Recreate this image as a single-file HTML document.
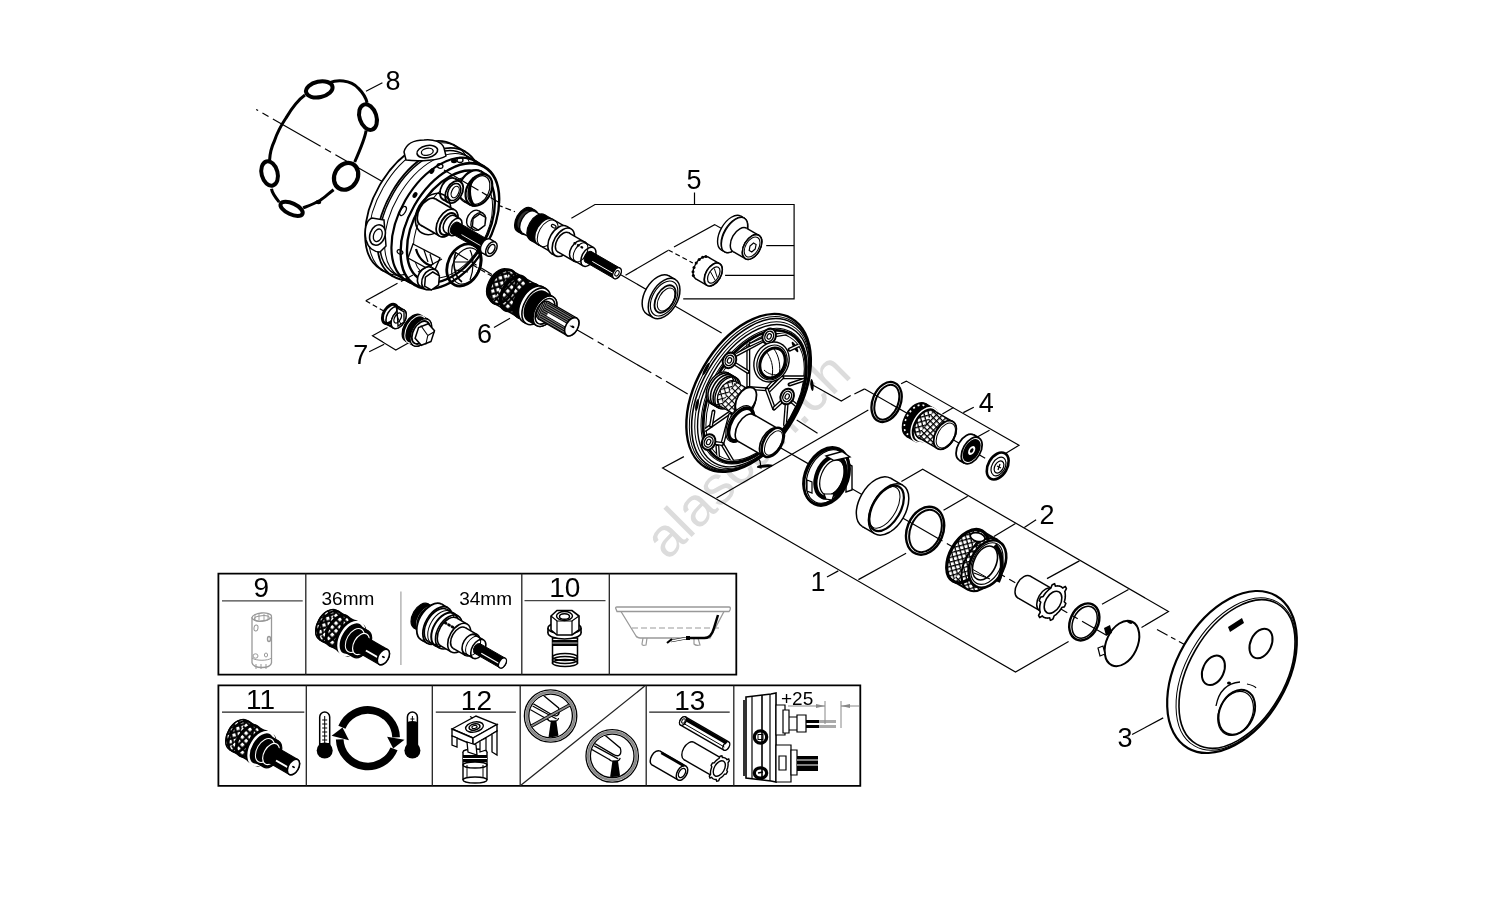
<!DOCTYPE html>
<html><head><meta charset="utf-8"><style>
html,body{margin:0;padding:0;background:#fff;width:1500px;height:916px;overflow:hidden}
svg{display:block;font-family:"Liberation Sans",sans-serif;will-change:transform}
</style></head><body>
<svg width="1500" height="916" viewBox="0 0 1500 916">
<defs>
<pattern id="knA" width="4.6" height="4.6" patternUnits="userSpaceOnUse" patternTransform="rotate(45)"><rect width="4.6" height="4.6" fill="#000"/><rect x="1.1" y="1.1" width="3.5" height="3.5" fill="#fff"/></pattern>
<pattern id="knB" width="5.4" height="5.4" patternUnits="userSpaceOnUse" patternTransform="rotate(45)"><rect width="5.4" height="5.4" fill="#000"/><rect x="1.7" y="1.7" width="3.2" height="3.2" fill="#fff"/></pattern>
<pattern id="knC" width="4.4" height="4.4" patternUnits="userSpaceOnUse" patternTransform="rotate(45)"><rect width="4.4" height="4.4" fill="#000"/><rect x="1.3" y="1.3" width="3.1" height="3.1" fill="#fff"/></pattern>
<pattern id="spl" width="2" height="2" patternUnits="userSpaceOnUse" patternTransform="rotate(30)"><rect width="2" height="2" fill="#fff"/><rect width="2" height="1.5" fill="#000"/></pattern>
<clipPath id="rclip"><ellipse cx="754.6" cy="396.4" rx="41" ry="70" transform="rotate(30 754.6 396.4)"/></clipPath></defs><g id="t1">
<polygon points="218.4,573.6 736.3,573.6 736.3,674.7 218.4,674.7" stroke="#000" stroke-width="1.8" fill="none" stroke-linejoin="miter"/>
<line x1="305.8" y1="573.6" x2="305.8" y2="674.7" stroke="#222" stroke-width="1.3" stroke-linecap="butt"/>
<line x1="521.8" y1="573.6" x2="521.8" y2="674.7" stroke="#222" stroke-width="1.3" stroke-linecap="butt"/>
<line x1="609.3" y1="573.6" x2="609.3" y2="674.7" stroke="#222" stroke-width="1.3" stroke-linecap="butt"/>
<line x1="222" y1="600.9" x2="302.7" y2="600.9" stroke="#444" stroke-width="1.3" stroke-linecap="butt"/>
<line x1="524.5" y1="600.7" x2="605.5" y2="600.7" stroke="#444" stroke-width="1.3" stroke-linecap="butt"/>
<line x1="400.9" y1="591.5" x2="400.9" y2="665" stroke="#aaa" stroke-width="1.3" stroke-linecap="butt"/>
<text x="261.3" y="596.6" font-size="28" text-anchor="middle" fill="#000">9</text>
<text x="564.8" y="597.3" font-size="28" text-anchor="middle" fill="#000">10</text>
<text x="321.5" y="604.5" font-size="19" text-anchor="start" fill="#000">36mm</text>
<text x="512" y="604.5" font-size="19" text-anchor="end" fill="#000">34mm</text>
</g>
<g id="t2">
<polygon points="218.4,685.4 860.3,685.4 860.3,785.8 218.4,785.8" stroke="#000" stroke-width="1.8" fill="none" stroke-linejoin="miter"/>
<line x1="306.3" y1="685.4" x2="306.3" y2="785.8" stroke="#222" stroke-width="1.3" stroke-linecap="butt"/>
<line x1="432.3" y1="685.4" x2="432.3" y2="785.8" stroke="#222" stroke-width="1.3" stroke-linecap="butt"/>
<line x1="520.2" y1="685.4" x2="520.2" y2="785.8" stroke="#222" stroke-width="1.3" stroke-linecap="butt"/>
<line x1="646.2" y1="685.4" x2="646.2" y2="785.8" stroke="#222" stroke-width="1.3" stroke-linecap="butt"/>
<line x1="733.8" y1="685.4" x2="733.8" y2="785.8" stroke="#222" stroke-width="1.3" stroke-linecap="butt"/>
<line x1="222" y1="712.2" x2="304.3" y2="712.2" stroke="#222" stroke-width="1.3" stroke-linecap="butt"/>
<line x1="435.8" y1="712.2" x2="515.9" y2="712.2" stroke="#222" stroke-width="1.3" stroke-linecap="butt"/>
<line x1="649.2" y1="712.2" x2="729.7" y2="712.2" stroke="#222" stroke-width="1.3" stroke-linecap="butt"/>
<line x1="520.2" y1="785.8" x2="644.7" y2="686.1" stroke="#222" stroke-width="1.3" stroke-linecap="butt"/>
<text x="260.6" y="709.1" font-size="28" text-anchor="middle" fill="#000">11</text>
<text x="476.4" y="710" font-size="28" text-anchor="middle" fill="#000">12</text>
<text x="689.8" y="710" font-size="28" text-anchor="middle" fill="#000">13</text>
<text x="781" y="704.5" font-size="19" text-anchor="start" fill="#000">+25</text>
</g>
<text x="0" y="0" transform="translate(667.4,561.2) rotate(-45)" font-size="55" fill="#dcdcdc">alascan.ch</text>
<g id="lines">
<text x="392.9" y="90.2" font-size="27" text-anchor="middle" fill="#000">8</text>
<line x1="366" y1="91.3" x2="382.4" y2="82.7" stroke="#000" stroke-width="1.2" stroke-linecap="butt"/>
<text x="694" y="188.6" font-size="27" text-anchor="middle" fill="#000">5</text>
<line x1="694.5" y1="192.5" x2="694.5" y2="204.5" stroke="#000" stroke-width="1.2" stroke-linecap="butt"/>
<polyline points="571.4,218.2 595,204.5 794.1,204.5 794.1,298.9 683.2,298.9" stroke="#000" stroke-width="1.2" fill="none" stroke-linejoin="miter"/>
<line x1="766.2" y1="245.6" x2="794.1" y2="245.6" stroke="#000" stroke-width="1.2" stroke-linecap="butt"/>
<line x1="725.1" y1="275.3" x2="794.1" y2="275.3" stroke="#000" stroke-width="1.2" stroke-linecap="butt"/>
<polyline points="625.5,275.3 668,250.5" stroke="#000" stroke-width="1.2" fill="none" stroke-linejoin="miter"/>
<polyline points="674,247 714.6,224.6 722.5,229" stroke="#000" stroke-width="1.2" fill="none" stroke-linejoin="miter"/>
<line x1="668.3" y1="250" x2="692.8" y2="263" stroke="#000" stroke-width="1.2" stroke-dasharray="5 3" stroke-linecap="butt"/>
<line x1="620.3" y1="274.4" x2="723" y2="333.7" stroke="#000" stroke-width="1.2" stroke-dasharray="55 5 7 5" stroke-dashoffset="10" stroke-linecap="butt"/>
<text x="360.7" y="364" font-size="27" text-anchor="middle" fill="#000">7</text>
<line x1="369.2" y1="351.7" x2="384.2" y2="344.2" stroke="#000" stroke-width="1.2" stroke-linecap="butt"/>
<polyline points="387.5,327.5 372.5,335.8 395.8,350 409.2,342.5" stroke="#000" stroke-width="1.2" fill="none" stroke-linejoin="miter"/>
<line x1="365.8" y1="300.8" x2="397.5" y2="283.3" stroke="#000" stroke-width="1.2" stroke-linecap="butt"/>
<line x1="365.8" y1="300.8" x2="383.3" y2="310.8" stroke="#000" stroke-width="1.2" stroke-dasharray="5 3" stroke-linecap="butt"/>
<text x="484.5" y="343" font-size="27" text-anchor="middle" fill="#000">6</text>
<line x1="494" y1="327.5" x2="510" y2="318.3" stroke="#000" stroke-width="1.2" stroke-linecap="butt"/>
<line x1="571.7" y1="326.7" x2="687.7" y2="393.9" stroke="#000" stroke-width="1.2" stroke-dasharray="50 5 7 5" stroke-dashoffset="25" stroke-linecap="butt"/>
<line x1="464.5" y1="260" x2="492.4" y2="276.6" stroke="#000" stroke-width="1.2" stroke-dasharray="6 3" stroke-linecap="butt"/>
<line x1="488.6" y1="201.5" x2="515" y2="211.7" stroke="#000" stroke-width="1.2" stroke-dasharray="6 3" stroke-linecap="butt"/>
<line x1="256.2" y1="109.5" x2="383.3" y2="182.1" stroke="#000" stroke-width="1.2" stroke-dasharray="55 5 7 5" stroke-dashoffset="52.8" stroke-linecap="butt"/>
<text x="986.2" y="411.9" font-size="27" text-anchor="middle" fill="#000">4</text>
<line x1="963.3" y1="412.6" x2="973.8" y2="407.3" stroke="#000" stroke-width="1.2" stroke-linecap="butt"/>
<polyline points="901.1,383.8 906.3,381.1 1019,445.3 1005.9,453.2" stroke="#000" stroke-width="1.2" fill="none" stroke-linejoin="miter"/>
<line x1="942.4" y1="413.9" x2="953.5" y2="407.6" stroke="#000" stroke-width="1.2" stroke-linecap="butt"/>
<line x1="977.7" y1="436.8" x2="989.5" y2="430.3" stroke="#000" stroke-width="1.2" stroke-linecap="butt"/>
<polyline points="810.5,383.8 841.3,401.1 850.7,395.5" stroke="#000" stroke-width="1.2" fill="none" stroke-linejoin="miter"/>
<line x1="854.4" y1="394" x2="864.7" y2="388.9" stroke="#000" stroke-width="1.2" stroke-linecap="butt"/>
<line x1="864.7" y1="388.9" x2="998" y2="465.6" stroke="#000" stroke-width="1.2" stroke-dasharray="55 5 7 5" stroke-dashoffset="0" stroke-linecap="butt"/>
<line x1="716.5" y1="498" x2="868.3" y2="410" stroke="#000" stroke-width="1.2" stroke-linecap="butt"/>
<line x1="796.7" y1="420" x2="817.5" y2="433.3" stroke="#000" stroke-width="1.2" stroke-linecap="butt"/>
<line x1="770" y1="441.7" x2="1106" y2="635" stroke="#000" stroke-width="1.2" stroke-dasharray="55 5 7 5" stroke-dashoffset="0" stroke-linecap="butt"/>
<line x1="1157" y1="629.5" x2="1184.5" y2="644.5" stroke="#000" stroke-width="1.2" stroke-dasharray="12 4 5 4" stroke-dashoffset="0" stroke-linecap="butt"/>
<polyline points="683.9,456.6 662.6,467.9 1015.5,672 1068.6,641.5" stroke="#000" stroke-width="1.2" fill="none" stroke-linejoin="miter"/>
<text x="818" y="591" font-size="27" text-anchor="middle" fill="#000">1</text>
<line x1="827" y1="577" x2="838.3" y2="570.9" stroke="#000" stroke-width="1.2" stroke-linecap="butt"/>
<line x1="858.4" y1="579.6" x2="906.1" y2="553.3" stroke="#000" stroke-width="1.2" stroke-linecap="butt"/>
<polyline points="901.4,481.6 922.7,469.3 1168.5,611.5 1141.5,627.5" stroke="#000" stroke-width="1.2" fill="none" stroke-linejoin="miter"/>
<text x="1046.9" y="523.6" font-size="27" text-anchor="middle" fill="#000">2</text>
<line x1="943.5" y1="510.3" x2="967.7" y2="496.3" stroke="#000" stroke-width="1.2" stroke-linecap="butt"/>
<line x1="993.9" y1="536.4" x2="1015.5" y2="523.6" stroke="#000" stroke-width="1.2" stroke-linecap="butt"/>
<line x1="1024.3" y1="527.5" x2="1036.1" y2="519.7" stroke="#000" stroke-width="1.2" stroke-linecap="butt"/>
<line x1="1047" y1="578.6" x2="1079.4" y2="560.9" stroke="#000" stroke-width="1.2" stroke-linecap="butt"/>
<line x1="1102" y1="604.2" x2="1128.5" y2="589.4" stroke="#000" stroke-width="1.2" stroke-linecap="butt"/>
<text x="1124.9" y="746.6" font-size="27" text-anchor="middle" fill="#000">3</text>
<line x1="1132.1" y1="734.5" x2="1163.2" y2="717.9" stroke="#000" stroke-width="1.2" stroke-linecap="butt"/>
</g>
<g id="body">
<ellipse cx="417" cy="207" rx="43.2" ry="72" transform="rotate(30 417 207)" stroke="#000" stroke-width="1.8" fill="#fff"/>
<polygon points="381,269.4 393.1,276.4 465.1,151.6 453,144.6" stroke="none" stroke-width="0" fill="#fff" stroke-linejoin="miter"/>
<line x1="381" y1="269.4" x2="393.1" y2="276.4" stroke="#000" stroke-width="1.8" stroke-linecap="butt"/>
<line x1="453" y1="144.6" x2="465.1" y2="151.6" stroke="#000" stroke-width="1.8" stroke-linecap="butt"/>
<ellipse cx="429.1" cy="214" rx="43.2" ry="72" transform="rotate(30 429.1 214)" stroke="#000" stroke-width="1.8" fill="#fff"/>
<ellipse cx="429.1" cy="214" rx="41.4" ry="69" transform="rotate(30 429.1 214)" stroke="#000" stroke-width="1.5" fill="#fff"/>
<polygon points="394.6,273.8 415.4,285.8 484.4,166.2 463.6,154.2" stroke="none" stroke-width="0" fill="#fff" stroke-linejoin="miter"/>
<line x1="394.6" y1="273.8" x2="415.4" y2="285.8" stroke="#000" stroke-width="1.5" stroke-linecap="butt"/>
<line x1="463.6" y1="154.2" x2="484.4" y2="166.2" stroke="#000" stroke-width="1.5" stroke-linecap="butt"/>
<ellipse cx="449.9" cy="226" rx="41.4" ry="69" transform="rotate(30 449.9 226)" stroke="#000" stroke-width="1.5" fill="#fff"/>
<ellipse cx="420.5" cy="209" rx="43" ry="72" transform="rotate(30 420.5 209)" stroke="#000" stroke-width="1.0" fill="none"/>
<ellipse cx="434.3" cy="217" rx="41.4" ry="69" transform="rotate(30 434.3 217)" stroke="#000" stroke-width="1.0" fill="none"/>
<ellipse cx="441.2" cy="221" rx="41.4" ry="69" transform="rotate(30 441.2 221)" stroke="#000" stroke-width="2.2" fill="none"/>
<path d="M404,152 C406,144 414,140 424,140 C434,139 442,142 444,148 L446,156 C440,160 420,162 406,160 Z" stroke="#000" stroke-width="1.5" fill="#fff"/>
<ellipse cx="427.3" cy="151.6" rx="10.5" ry="6" transform="rotate(-12 427.3 151.6)" stroke="#000" stroke-width="1.6" fill="#fff"/>
<ellipse cx="427.3" cy="151.8" rx="6" ry="3.4" transform="rotate(-12 427.3 151.8)" stroke="#000" stroke-width="1.3" fill="none"/>
<path d="M372,218 C366,220 364,230 366,240 C368,248 374,252 380,252 L386,246 L384,220 Z" stroke="#000" stroke-width="1.5" fill="#fff"/>
<ellipse cx="377.5" cy="235" rx="7.5" ry="10.5" transform="rotate(20 377.5 235)" stroke="#000" stroke-width="1.6" fill="#fff"/>
<ellipse cx="377.8" cy="235.3" rx="4.2" ry="6.5" transform="rotate(20 377.8 235.3)" stroke="#000" stroke-width="1.3" fill="none"/>
<ellipse cx="413" cy="261" rx="4" ry="6.5" transform="rotate(30 413 261)" stroke="#000" stroke-width="1.4" fill="#fff"/>
<ellipse cx="449.9" cy="226" rx="40.8" ry="68" transform="rotate(30 449.9 226)" stroke="#000" stroke-width="1.8" fill="#fff"/>
<ellipse cx="450.9" cy="226.5" rx="36.5" ry="61" transform="rotate(30 450.9 226.5)" stroke="#000" stroke-width="2.4" fill="#fff"/>
<ellipse cx="452.9" cy="227.5" rx="33" ry="55" transform="rotate(30 452.9 227.5)" stroke="#000" stroke-width="1.0" fill="none"/>
<ellipse cx="432" cy="171" rx="2.2" ry="3.2" transform="rotate(30 432 171)" fill="#000"/>
<ellipse cx="440" cy="166" rx="3" ry="2.2" transform="rotate(20 440 166)" stroke="#000" stroke-width="1.3" fill="none"/>
<ellipse cx="415" cy="195" rx="2.2" ry="3.2" transform="rotate(30 415 195)" fill="#000"/>
<ellipse cx="403" cy="211" rx="2.5" ry="5" transform="rotate(30 403 211)" stroke="#000" stroke-width="1.3" fill="none"/>
<ellipse cx="400" cy="252" rx="3" ry="2" transform="rotate(30 400 252)" stroke="#000" stroke-width="1.3" fill="none"/>
<ellipse cx="472" cy="186" rx="11.9" ry="17" transform="rotate(30 472 186)" stroke="#000" stroke-width="2.2" fill="#fff"/>
<polygon points="463.5,200.7 470.4,204.7 487.4,175.3 480.5,171.3" stroke="none" stroke-width="0" fill="#fff" stroke-linejoin="miter"/>
<line x1="463.5" y1="200.7" x2="470.4" y2="204.7" stroke="#000" stroke-width="2.2" stroke-linecap="butt"/>
<line x1="480.5" y1="171.3" x2="487.4" y2="175.3" stroke="#000" stroke-width="2.2" stroke-linecap="butt"/>
<ellipse cx="478.9" cy="190" rx="11.9" ry="17" transform="rotate(30 478.9 190)" stroke="#000" stroke-width="2.2" fill="#fff"/>
<ellipse cx="478.9" cy="190" rx="10" ry="15" transform="rotate(25 478.9 190)" stroke="#000" stroke-width="1.2" fill="none"/>
<path d="M474,178 C468,184 468,198 474,206" stroke="#000" stroke-width="3.0" fill="none"/>
<ellipse cx="454" cy="161" rx="3" ry="2.2" fill="#000"/>
<ellipse cx="460" cy="160" rx="3" ry="2.5" stroke="#000" stroke-width="1.3" fill="none"/>
<ellipse cx="449" cy="189" rx="7.8" ry="12" transform="rotate(30 449 189)" stroke="#000" stroke-width="1.8" fill="#fff"/>
<polygon points="443,199.4 448.2,202.4 460.2,181.6 455,178.6" stroke="none" stroke-width="0" fill="#fff" stroke-linejoin="miter"/>
<line x1="443" y1="199.4" x2="448.2" y2="202.4" stroke="#000" stroke-width="1.8" stroke-linecap="butt"/>
<line x1="455" y1="178.6" x2="460.2" y2="181.6" stroke="#000" stroke-width="1.8" stroke-linecap="butt"/>
<ellipse cx="454.2" cy="192" rx="7.8" ry="12" transform="rotate(30 454.2 192)" stroke="#000" stroke-width="1.8" fill="#fff"/>
<ellipse cx="454.2" cy="192" rx="6" ry="9" transform="rotate(25 454.2 192)" stroke="#000" stroke-width="1.6" fill="none"/>
<ellipse cx="455.2" cy="192" rx="3.5" ry="6" transform="rotate(25 455.2 192)" stroke="#000" stroke-width="1.2" fill="none"/>
<ellipse cx="474" cy="219" rx="6.6" ry="9.5" transform="rotate(30 474 219)" stroke="#000" stroke-width="1.4" fill="#fff"/>
<polygon points="469.2,227.2 473.6,229.7 483.1,213.3 478.8,210.8" stroke="none" stroke-width="0" fill="#fff" stroke-linejoin="miter"/>
<line x1="469.2" y1="227.2" x2="473.6" y2="229.7" stroke="#000" stroke-width="1.4" stroke-linecap="butt"/>
<line x1="478.8" y1="210.8" x2="483.1" y2="213.3" stroke="#000" stroke-width="1.4" stroke-linecap="butt"/>
<ellipse cx="478.3" cy="221.5" rx="6.6" ry="9.5" transform="rotate(30 478.3 221.5)" stroke="#000" stroke-width="1.4" fill="#fff"/>
<polygon points="484.9,225.4 478.3,230.1 472.4,226.7 473.1,218.6 479.7,213.9 485.6,217.3" stroke="#000" stroke-width="1.4" fill="#fff" stroke-linejoin="miter"/>
<ellipse cx="464" cy="265" rx="16" ry="22" transform="rotate(25 464 265)" stroke="#000" stroke-width="2.8" fill="none"/>
<ellipse cx="466" cy="266" rx="13" ry="19" transform="rotate(25 466 266)" stroke="#000" stroke-width="1.2" fill="none"/>
<path d="M456,252 C452,262 454,276 462,282" stroke="#000" stroke-width="1.6" fill="none"/>
<path d="M470,250 C474,258 474,270 470,280" stroke="#000" stroke-width="1.2" fill="none"/>
<line x1="455" y1="262" x2="470" y2="262" stroke="#000" stroke-width="1.0" stroke-linecap="butt"/>
<line x1="455" y1="270" x2="468" y2="272" stroke="#000" stroke-width="1.0" stroke-linecap="butt"/>
<polygon points="413,244 440,258 434,272 408,258" stroke="#000" stroke-width="1.4" fill="#fff" stroke-linejoin="miter"/>
<path d="M416,249 C418,257 424,264 432,266" stroke="#000" stroke-width="2.2" fill="none"/>
<line x1="424" y1="250" x2="428" y2="262" stroke="#000" stroke-width="1.2" stroke-linecap="butt"/>
<line x1="430" y1="254" x2="433" y2="265" stroke="#000" stroke-width="1.2" stroke-linecap="butt"/>
<ellipse cx="426" cy="277" rx="7.7" ry="11" transform="rotate(30 426 277)" stroke="#000" stroke-width="1.6" fill="#fff"/>
<polygon points="420.5,286.5 424.8,289 435.8,270 431.5,267.5" stroke="none" stroke-width="0" fill="#fff" stroke-linejoin="miter"/>
<line x1="420.5" y1="286.5" x2="424.8" y2="289" stroke="#000" stroke-width="1.6" stroke-linecap="butt"/>
<line x1="431.5" y1="267.5" x2="435.8" y2="270" stroke="#000" stroke-width="1.6" stroke-linecap="butt"/>
<ellipse cx="430.3" cy="279.5" rx="7.7" ry="11" transform="rotate(30 430.3 279.5)" stroke="#000" stroke-width="1.6" fill="#fff"/>
<polygon points="438.6,284.8 431.2,290 424.6,286.2 425.4,277.2 432.8,272 439.4,275.8" stroke="#000" stroke-width="1.5" fill="#fff" stroke-linejoin="miter"/>
<ellipse cx="433" cy="214" rx="16" ry="22" transform="rotate(30 433 214)" stroke="#000" stroke-width="1.6" fill="none"/>
<ellipse cx="428" cy="212" rx="9" ry="15" transform="rotate(30 428 212)" stroke="#000" stroke-width="1.8" fill="#fff"/>
<polygon points="420.5,225 439.6,236 454.6,210 435.5,199" stroke="none" stroke-width="0" fill="#fff" stroke-linejoin="miter"/>
<line x1="420.5" y1="225" x2="439.6" y2="236" stroke="#000" stroke-width="1.8" stroke-linecap="butt"/>
<line x1="435.5" y1="199" x2="454.6" y2="210" stroke="#000" stroke-width="1.8" stroke-linecap="butt"/>
<ellipse cx="447.1" cy="223" rx="9" ry="15" transform="rotate(30 447.1 223)" stroke="#000" stroke-width="1.8" fill="#fff"/>
<ellipse cx="447.1" cy="223" rx="9" ry="15" transform="rotate(30 447.1 223)" stroke="#000" stroke-width="1.4" fill="#fff"/>
<ellipse cx="448.1" cy="224" rx="7" ry="12" transform="rotate(30 448.1 224)" stroke="#000" stroke-width="2.0" fill="#fff"/>
<ellipse cx="450" cy="224" rx="5.7" ry="9.5" transform="rotate(30 450 224)" stroke="#000" stroke-width="1.6" fill="#fff"/>
<polygon points="445.2,232.2 450.4,235.2 459.9,218.8 454.8,215.8" stroke="none" stroke-width="0" fill="#fff" stroke-linejoin="miter"/>
<line x1="445.2" y1="232.2" x2="450.4" y2="235.2" stroke="#000" stroke-width="1.6" stroke-linecap="butt"/>
<line x1="454.8" y1="215.8" x2="459.9" y2="218.8" stroke="#000" stroke-width="1.6" stroke-linecap="butt"/>
<ellipse cx="455.2" cy="227" rx="5.7" ry="9.5" transform="rotate(30 455.2 227)" stroke="#000" stroke-width="1.6" fill="#fff"/>
<ellipse cx="455" cy="228" rx="3.9" ry="6.5" transform="rotate(30 455 228)" stroke="#000" stroke-width="1.0" fill="#000"/>
<polygon points="451.8,233.6 486.4,253.6 492.9,242.4 458.2,222.4" stroke="none" stroke-width="0" fill="#000" stroke-linejoin="miter"/>
<line x1="451.8" y1="233.6" x2="486.4" y2="253.6" stroke="#000" stroke-width="1.0" stroke-linecap="butt"/>
<line x1="458.2" y1="222.4" x2="492.9" y2="242.4" stroke="#000" stroke-width="1.0" stroke-linecap="butt"/>
<ellipse cx="489.6" cy="248" rx="3.9" ry="6.5" transform="rotate(30 489.6 248)" stroke="#000" stroke-width="1.0" fill="#fff"/>
<line x1="461.5" y1="234.6" x2="489.2" y2="250.6" stroke="#fff" stroke-width="0.9" stroke-linecap="butt"/>
<ellipse cx="486.2" cy="246" rx="4.8" ry="8" transform="rotate(30 486.2 246)" stroke="#000" stroke-width="1.5" fill="#fff"/>
<polygon points="482.2,252.9 487.4,255.9 495.4,242.1 490.2,239.1" stroke="none" stroke-width="0" fill="#fff" stroke-linejoin="miter"/>
<line x1="482.2" y1="252.9" x2="487.4" y2="255.9" stroke="#000" stroke-width="1.5" stroke-linecap="butt"/>
<line x1="490.2" y1="239.1" x2="495.4" y2="242.1" stroke="#000" stroke-width="1.5" stroke-linecap="butt"/>
<ellipse cx="491.4" cy="249" rx="4.8" ry="8" transform="rotate(30 491.4 249)" stroke="#000" stroke-width="1.5" fill="#fff"/>
<ellipse cx="491.4" cy="249" rx="3" ry="5" transform="rotate(30 491.4 249)" stroke="#000" stroke-width="1.5" fill="#fff"/>
</g>
<line x1="444" y1="170" x2="500" y2="203" stroke="#000" stroke-width="1.2" stroke-dasharray="40 4 6 4" stroke-linecap="butt"/>
<line x1="456" y1="252.8" x2="492" y2="274.5" stroke="#000" stroke-width="1.2" stroke-dasharray="14 4 6 4" stroke-linecap="butt"/>
<g id="ring8">
<path d="M329.8,82.7 C336,80 350,79 358.5,88.4 C363,93 366,98 367.1,102.8 M366.1,130.5 C365,138 360,150 354.7,162 M333.6,189.7 C328,194 324,198 320.3,200.2 C314,204 308,206 303.1,207.9 M279.2,202.1 C275,197 272,193 271.5,188.8 M269.6,160.1 C270,152 272,146 274.4,141 C278,130 282,124 285.9,118.1 C292,108 298,100 305,95.1" stroke="#000" stroke-width="3.0" fill="none"/>
<ellipse cx="319.3" cy="89.4" rx="13.5" ry="7.8" transform="rotate(-12 319.3 89.4)" stroke="#000" stroke-width="4.0" fill="none"/>
<ellipse cx="368" cy="117.1" rx="8.4" ry="13.2" transform="rotate(-18 368 117.1)" stroke="#000" stroke-width="4.0" fill="none"/>
<ellipse cx="346.1" cy="176.3" rx="11.5" ry="14" transform="rotate(30 346.1 176.3)" stroke="#000" stroke-width="4.2" fill="none"/>
<ellipse cx="291.6" cy="208.8" rx="12" ry="5.5" transform="rotate(25 291.6 208.8)" stroke="#000" stroke-width="4.0" fill="none"/>
<ellipse cx="269.6" cy="173.5" rx="8" ry="12.4" transform="rotate(-15 269.6 173.5)" stroke="#000" stroke-width="4.0" fill="none"/>
<ellipse cx="318.4" cy="202.1" rx="2.8" ry="2.2" fill="#000"/>
</g>
<line x1="401" y1="281.5" x2="413" y2="275" stroke="#000" stroke-width="1.2" stroke-linecap="butt"/>
<line x1="418" y1="272" x2="442" y2="259" stroke="#000" stroke-width="1.2" stroke-linecap="butt"/>
<g id="ros">
<ellipse cx="748.6" cy="392.9" rx="52" ry="86" transform="rotate(30 748.6 392.9)" stroke="#000" stroke-width="2.4" fill="#fff"/>
<ellipse cx="749.8" cy="393.7" rx="50.2" ry="84" transform="rotate(30 749.8 393.7)" stroke="#000" stroke-width="1.0" fill="none"/>
<ellipse cx="750.8" cy="394.3" rx="49" ry="82.5" transform="rotate(30 750.8 394.3)" stroke="#000" stroke-width="1.6" fill="none"/>
<ellipse cx="752.1" cy="395.1" rx="47.5" ry="80" transform="rotate(30 752.1 395.1)" stroke="#000" stroke-width="1.0" fill="none"/>
<ellipse cx="753.1" cy="395.7" rx="46" ry="77.5" transform="rotate(30 753.1 395.7)" stroke="#000" stroke-width="1.4" fill="none"/>
<ellipse cx="754.1" cy="396.1" rx="44" ry="74" transform="rotate(30 754.1 396.1)" stroke="#000" stroke-width="1.0" fill="none"/>
<ellipse cx="754.6" cy="396.4" rx="42.5" ry="72" transform="rotate(30 754.6 396.4)" stroke="#000" stroke-width="2.8" fill="none"/>
<ellipse cx="755.1" cy="396.9" rx="40.5" ry="69" transform="rotate(30 755.1 396.9)" stroke="#000" stroke-width="1.0" fill="none"/>
<ellipse cx="706" cy="369" rx="7" ry="1.6" transform="rotate(-62 706 369)" fill="#000"/>
<ellipse cx="697" cy="405" rx="6" ry="1.6" transform="rotate(-80 697 405)" fill="#000"/>
<ellipse cx="795" cy="347" rx="6" ry="1.6" transform="rotate(60 795 347)" fill="#000"/>
<ellipse cx="812" cy="385" rx="6" ry="1.6" transform="rotate(85 812 385)" fill="#000"/>
<ellipse cx="765" cy="466" rx="8" ry="1.6" transform="rotate(-5 765 466)" fill="#000"/>
<g clip-path="url(#rclip)">
<line x1="748.3" y1="334" x2="748.3" y2="395" stroke="#000" stroke-width="4.0" stroke-linecap="round"/>
<line x1="748.3" y1="334" x2="748.3" y2="395" stroke="#fff" stroke-width="1.3" stroke-linecap="butt"/>
<line x1="733.9" y1="356" x2="763.6" y2="340.3" stroke="#000" stroke-width="4.0" stroke-linecap="round"/>
<line x1="733.9" y1="356" x2="763.6" y2="340.3" stroke="#fff" stroke-width="1.3" stroke-linecap="butt"/>
<line x1="750" y1="344.8" x2="763.2" y2="338.8" stroke="#000" stroke-width="4.0" stroke-linecap="round"/>
<line x1="750" y1="344.8" x2="763.2" y2="338.8" stroke="#fff" stroke-width="1.3" stroke-linecap="butt"/>
<line x1="789.6" y1="349.6" x2="806" y2="342" stroke="#000" stroke-width="4.0" stroke-linecap="round"/>
<line x1="789.6" y1="349.6" x2="806" y2="342" stroke="#fff" stroke-width="1.3" stroke-linecap="butt"/>
<line x1="782.4" y1="377.3" x2="812" y2="377.3" stroke="#000" stroke-width="4.0" stroke-linecap="round"/>
<line x1="782.4" y1="377.3" x2="812" y2="377.3" stroke="#fff" stroke-width="1.3" stroke-linecap="butt"/>
<line x1="780" y1="374.9" x2="766.8" y2="389.3" stroke="#000" stroke-width="4.0" stroke-linecap="round"/>
<line x1="780" y1="374.9" x2="766.8" y2="389.3" stroke="#fff" stroke-width="1.3" stroke-linecap="butt"/>
<line x1="766.8" y1="389.3" x2="748" y2="388" stroke="#000" stroke-width="4.0" stroke-linecap="round"/>
<line x1="766.8" y1="389.3" x2="748" y2="388" stroke="#fff" stroke-width="1.3" stroke-linecap="butt"/>
<line x1="768" y1="391.7" x2="782.4" y2="377.3" stroke="#000" stroke-width="4.0" stroke-linecap="round"/>
<line x1="768" y1="391.7" x2="782.4" y2="377.3" stroke="#fff" stroke-width="1.3" stroke-linecap="butt"/>
<line x1="766.8" y1="389.3" x2="774" y2="408.5" stroke="#000" stroke-width="4.0" stroke-linecap="round"/>
<line x1="766.8" y1="389.3" x2="774" y2="408.5" stroke="#fff" stroke-width="1.3" stroke-linecap="butt"/>
<line x1="789.6" y1="384.5" x2="812" y2="377" stroke="#000" stroke-width="4.0" stroke-linecap="round"/>
<line x1="789.6" y1="384.5" x2="812" y2="377" stroke="#fff" stroke-width="1.3" stroke-linecap="butt"/>
<line x1="730.2" y1="412.5" x2="695" y2="437" stroke="#000" stroke-width="4.0" stroke-linecap="round"/>
<line x1="730.2" y1="412.5" x2="695" y2="437" stroke="#fff" stroke-width="1.3" stroke-linecap="butt"/>
<line x1="713.5" y1="411.5" x2="711" y2="426" stroke="#000" stroke-width="4.0" stroke-linecap="round"/>
<line x1="713.5" y1="411.5" x2="711" y2="426" stroke="#fff" stroke-width="1.3" stroke-linecap="butt"/>
<line x1="730.2" y1="414.5" x2="722.3" y2="444" stroke="#000" stroke-width="4.0" stroke-linecap="round"/>
<line x1="730.2" y1="414.5" x2="722.3" y2="444" stroke="#fff" stroke-width="1.3" stroke-linecap="butt"/>
<line x1="722.3" y1="444" x2="733" y2="462" stroke="#000" stroke-width="4.0" stroke-linecap="round"/>
<line x1="722.3" y1="444" x2="733" y2="462" stroke="#fff" stroke-width="1.3" stroke-linecap="butt"/>
<line x1="717.4" y1="446" x2="718.4" y2="462" stroke="#000" stroke-width="4.0" stroke-linecap="round"/>
<line x1="717.4" y1="446" x2="718.4" y2="462" stroke="#fff" stroke-width="1.3" stroke-linecap="butt"/>
<line x1="708.6" y1="442" x2="698" y2="455" stroke="#000" stroke-width="4.0" stroke-linecap="round"/>
<line x1="708.6" y1="442" x2="698" y2="455" stroke="#fff" stroke-width="1.3" stroke-linecap="butt"/>
<line x1="729.5" y1="360.4" x2="705" y2="374" stroke="#000" stroke-width="4.0" stroke-linecap="round"/>
<line x1="729.5" y1="360.4" x2="705" y2="374" stroke="#fff" stroke-width="1.3" stroke-linecap="butt"/>
<line x1="787.2" y1="396.5" x2="785" y2="425" stroke="#000" stroke-width="4.0" stroke-linecap="round"/>
<line x1="787.2" y1="396.5" x2="785" y2="425" stroke="#fff" stroke-width="1.3" stroke-linecap="butt"/>
<line x1="774" y1="408.5" x2="787.2" y2="396.5" stroke="#000" stroke-width="4.0" stroke-linecap="round"/>
<line x1="774" y1="408.5" x2="787.2" y2="396.5" stroke="#fff" stroke-width="1.3" stroke-linecap="butt"/>
<line x1="769.2" y1="336.4" x2="772" y2="322" stroke="#000" stroke-width="4.0" stroke-linecap="round"/>
<line x1="769.2" y1="336.4" x2="772" y2="322" stroke="#fff" stroke-width="1.3" stroke-linecap="butt"/>
<line x1="769.2" y1="336.4" x2="795" y2="332" stroke="#000" stroke-width="4.0" stroke-linecap="round"/>
<line x1="769.2" y1="336.4" x2="795" y2="332" stroke="#fff" stroke-width="1.3" stroke-linecap="butt"/>
<line x1="729.5" y1="360.4" x2="748" y2="372" stroke="#000" stroke-width="4.0" stroke-linecap="round"/>
<line x1="729.5" y1="360.4" x2="748" y2="372" stroke="#fff" stroke-width="1.3" stroke-linecap="butt"/>
<line x1="722.3" y1="444" x2="708.6" y2="442" stroke="#000" stroke-width="4.0" stroke-linecap="round"/>
<line x1="722.3" y1="444" x2="708.6" y2="442" stroke="#fff" stroke-width="1.3" stroke-linecap="butt"/>
<line x1="790" y1="400" x2="802" y2="410" stroke="#000" stroke-width="4.0" stroke-linecap="round"/>
<line x1="790" y1="400" x2="802" y2="410" stroke="#fff" stroke-width="1.3" stroke-linecap="butt"/>
</g>
<ellipse cx="729.5" cy="360.4" rx="6.5" ry="8" transform="rotate(25 729.5 360.4)" stroke="#000" stroke-width="2.0" fill="#fff"/>
<ellipse cx="729.5" cy="360.4" rx="4.2" ry="5.4" transform="rotate(25 729.5 360.4)" stroke="#000" stroke-width="1.4" fill="#fff"/>
<ellipse cx="729.5" cy="360.4" rx="2" ry="2.8" transform="rotate(25 729.5 360.4)" stroke="#000" stroke-width="1.2" fill="#fff"/>
<ellipse cx="769.2" cy="336.4" rx="6.5" ry="8" transform="rotate(25 769.2 336.4)" stroke="#000" stroke-width="2.0" fill="#fff"/>
<ellipse cx="769.2" cy="336.4" rx="4.2" ry="5.4" transform="rotate(25 769.2 336.4)" stroke="#000" stroke-width="1.4" fill="#fff"/>
<ellipse cx="769.2" cy="336.4" rx="2" ry="2.8" transform="rotate(25 769.2 336.4)" stroke="#000" stroke-width="1.2" fill="#fff"/>
<ellipse cx="787.2" cy="396.5" rx="6.5" ry="8" transform="rotate(25 787.2 396.5)" stroke="#000" stroke-width="2.0" fill="#fff"/>
<ellipse cx="787.2" cy="396.5" rx="4.2" ry="5.4" transform="rotate(25 787.2 396.5)" stroke="#000" stroke-width="1.4" fill="#fff"/>
<ellipse cx="787.2" cy="396.5" rx="2" ry="2.8" transform="rotate(25 787.2 396.5)" stroke="#000" stroke-width="1.2" fill="#fff"/>
<ellipse cx="708.6" cy="442" rx="6.5" ry="8" transform="rotate(25 708.6 442)" stroke="#000" stroke-width="2.0" fill="#fff"/>
<ellipse cx="708.6" cy="442" rx="4.2" ry="5.4" transform="rotate(25 708.6 442)" stroke="#000" stroke-width="1.4" fill="#fff"/>
<ellipse cx="708.6" cy="442" rx="2" ry="2.8" transform="rotate(25 708.6 442)" stroke="#000" stroke-width="1.2" fill="#fff"/>
<ellipse cx="771.5" cy="362" rx="17" ry="20.5" transform="rotate(25 771.5 362)" stroke="#000" stroke-width="1.4" fill="#fff"/>
<ellipse cx="772" cy="362.5" rx="14.5" ry="18" transform="rotate(25 772 362.5)" stroke="#000" stroke-width="1.2" fill="none"/>
<ellipse cx="772.5" cy="363" rx="12" ry="15.5" transform="rotate(25 772.5 363)" stroke="#000" stroke-width="3.0" fill="#fff"/>
<path d="M766,351 C771,358 774,366 772,377" stroke="#000" stroke-width="1.0" fill="none"/>
<path d="M774,349 C779,356 781,366 779,376" stroke="#000" stroke-width="1.0" fill="none"/>
<path d="M764,370 C768,374 774,376 780,374" stroke="#000" stroke-width="1.0" fill="none"/>
<ellipse cx="719" cy="388" rx="10.8" ry="17.5" transform="rotate(30 719 388)" stroke="#000" stroke-width="1.4" fill="#fff"/>
<polygon points="710.2,403.2 718.9,408.2 736.4,377.8 727.8,372.8" stroke="none" stroke-width="0" fill="#fff" stroke-linejoin="miter"/>
<line x1="710.2" y1="403.2" x2="718.9" y2="408.2" stroke="#000" stroke-width="1.4" stroke-linecap="butt"/>
<line x1="727.8" y1="372.8" x2="736.4" y2="377.8" stroke="#000" stroke-width="1.4" stroke-linecap="butt"/>
<ellipse cx="727.7" cy="393" rx="10.8" ry="17.5" transform="rotate(30 727.7 393)" stroke="#000" stroke-width="1.4" fill="#fff"/>
<ellipse cx="720.7" cy="389" rx="10.8" ry="17.5" transform="rotate(30 720.7 389)" stroke="#000" stroke-width="1.6" fill="none"/>
<ellipse cx="723.3" cy="390.5" rx="10.8" ry="17.5" transform="rotate(30 723.3 390.5)" stroke="#000" stroke-width="1.6" fill="none"/>
<ellipse cx="725.9" cy="392" rx="10.8" ry="17.5" transform="rotate(30 725.9 392)" stroke="#000" stroke-width="1.6" fill="none"/>
<ellipse cx="728" cy="394" rx="9" ry="14.5" transform="rotate(30 728 394)" stroke="#000" stroke-width="1.2" fill="url(#knA)"/>
<polygon points="720.8,406.6 738.1,416.6 752.6,391.4 735.2,381.4" stroke="none" stroke-width="0" fill="url(#knA)" stroke-linejoin="miter"/>
<line x1="720.8" y1="406.6" x2="738.1" y2="416.6" stroke="#000" stroke-width="1.2" stroke-linecap="butt"/>
<line x1="735.2" y1="381.4" x2="752.6" y2="391.4" stroke="#000" stroke-width="1.2" stroke-linecap="butt"/>
<ellipse cx="745.3" cy="404" rx="9" ry="14.5" transform="rotate(30 745.3 404)" stroke="#000" stroke-width="1.2" fill="url(#knA)"/>
<ellipse cx="745.9" cy="400.6" rx="9" ry="14.5" transform="rotate(30 745.9 400.6)" stroke="#000" stroke-width="1.8" fill="#fff"/>
<ellipse cx="740" cy="424" rx="11.5" ry="20" transform="rotate(30 740 424)" stroke="#000" stroke-width="1.2" fill="#fff"/>
<ellipse cx="741" cy="424.5" rx="10" ry="18" transform="rotate(30 741 424.5)" stroke="#000" stroke-width="3.6" fill="#fff"/>
<ellipse cx="746" cy="428" rx="8.7" ry="15.5" transform="rotate(30 746 428)" stroke="#000" stroke-width="1.6" fill="#fff"/>
<polygon points="738.2,441.4 762.5,455.4 778,428.6 753.8,414.6" stroke="none" stroke-width="0" fill="#fff" stroke-linejoin="miter"/>
<line x1="738.2" y1="441.4" x2="762.5" y2="455.4" stroke="#000" stroke-width="1.6" stroke-linecap="butt"/>
<line x1="753.8" y1="414.6" x2="778" y2="428.6" stroke="#000" stroke-width="1.6" stroke-linecap="butt"/>
<ellipse cx="770.2" cy="442" rx="8.7" ry="15.5" transform="rotate(30 770.2 442)" stroke="#000" stroke-width="1.6" fill="#fff"/>
<ellipse cx="772.8" cy="442.4" rx="9" ry="16" transform="rotate(30 772.8 442.4)" stroke="#000" stroke-width="2.6" fill="#fff"/>
<ellipse cx="773.5" cy="443" rx="7" ry="13.5" transform="rotate(30 773.5 443)" stroke="#000" stroke-width="1.0" fill="none"/>
<line x1="752" y1="414" x2="756" y2="416" stroke="#000" stroke-width="1.6" stroke-linecap="butt"/>
<polyline points="757,457 760,461 761,468 757,467" stroke="#000" stroke-width="1.2" fill="none" stroke-linejoin="miter"/>
</g>
<g id="cover3">
<ellipse cx="1232" cy="672" rx="55" ry="88" transform="rotate(30 1232 672)" stroke="#000" stroke-width="2.2" fill="#fff"/>
<ellipse cx="1236" cy="674" rx="50" ry="83" transform="rotate(30 1236 674)" stroke="#000" stroke-width="1.0" fill="none"/>
<ellipse cx="1237" cy="674" rx="48" ry="81" transform="rotate(30 1237 674)" stroke="#000" stroke-width="1.6" fill="none"/>
<ellipse cx="1213.4" cy="670.3" rx="10.5" ry="15.5" transform="rotate(25 1213.4 670.3)" stroke="#000" stroke-width="2.0" fill="none"/>
<ellipse cx="1261" cy="643.5" rx="10.5" ry="15.5" transform="rotate(25 1261 643.5)" stroke="#000" stroke-width="2.0" fill="none"/>
<ellipse cx="1236.8" cy="712.2" rx="17" ry="23.5" transform="rotate(25 1236.8 712.2)" stroke="#000" stroke-width="2.0" fill="none"/>
<ellipse cx="1235.6" cy="713.4" rx="16.5" ry="23" transform="rotate(25 1235.6 713.4)" stroke="#000" stroke-width="1.2" fill="none"/>
<path d="M1216,706 C1219,690 1228,683 1240,682" stroke="#000" stroke-width="1.3" fill="none"/>
<path d="M1247,684 C1252,685 1255,686 1256,688" stroke="#000" stroke-width="1.2" fill="none"/>
<ellipse cx="1229" cy="683" rx="2" ry="1.5" fill="#000"/>
<polygon points="1228,627 1242,618 1244,623 1230,632" stroke="#000" stroke-width="0" fill="#000" stroke-linejoin="miter"/>
</g>
<g id="icons">
<g id="c9">
<line x1="252" y1="617" x2="252" y2="663" stroke="#999" stroke-width="1.3" stroke-linecap="butt"/>
<line x1="271.5" y1="617" x2="271.5" y2="663" stroke="#999" stroke-width="1.3" stroke-linecap="butt"/>
<ellipse cx="261.8" cy="617" rx="9.8" ry="4" transform="rotate(-5 261.8 617)" stroke="#999" stroke-width="1.3" fill="#fff"/>
<ellipse cx="261.8" cy="618.5" rx="7.5" ry="2.8" transform="rotate(-5 261.8 618.5)" stroke="#999" stroke-width="1.0" fill="none"/>
<line x1="255" y1="614" x2="255" y2="620" stroke="#999" stroke-width="0.9" stroke-linecap="butt"/>
<line x1="259" y1="614" x2="259" y2="620" stroke="#999" stroke-width="0.9" stroke-linecap="butt"/>
<line x1="264" y1="614" x2="264" y2="620" stroke="#999" stroke-width="0.9" stroke-linecap="butt"/>
<line x1="268" y1="614" x2="268" y2="620" stroke="#999" stroke-width="0.9" stroke-linecap="butt"/>
<path d="M252,663 C254,669 270,669 271.5,663" stroke="#999" stroke-width="1.3" fill="none"/>
<path d="M252,658 C256,661 268,661 271.5,658" stroke="#999" stroke-width="1.0" fill="none"/>
<line x1="256" y1="664" x2="256" y2="669" stroke="#999" stroke-width="1.0" stroke-linecap="butt"/>
<line x1="261" y1="664" x2="261" y2="669" stroke="#999" stroke-width="1.0" stroke-linecap="butt"/>
<line x1="266" y1="664" x2="266" y2="669" stroke="#999" stroke-width="1.0" stroke-linecap="butt"/>
<ellipse cx="256" cy="628" rx="2" ry="3" transform="rotate(10 256 628)" stroke="#999" stroke-width="1.0" fill="none"/>
<ellipse cx="255.5" cy="656" rx="2.5" ry="2.2" stroke="#999" stroke-width="1.0" fill="none"/>
<ellipse cx="269" cy="639" rx="1.5" ry="2.5" stroke="#999" stroke-width="1.4" fill="none"/>
<ellipse cx="266" cy="655" rx="1.6" ry="2" stroke="#999" stroke-width="1.0" fill="none"/>
</g>
<g transform="translate(0,0)">
<ellipse cx="327.1" cy="624.5" rx="9.6" ry="16" transform="rotate(30 327.1 624.5)" stroke="#000" stroke-width="1.2" fill="#000"/>
<polygon points="319.1,638.4 322.6,640.4 338.6,612.6 335.1,610.6" stroke="none" stroke-width="0" fill="#000" stroke-linejoin="miter"/>
<line x1="319.1" y1="638.4" x2="322.6" y2="640.4" stroke="#000" stroke-width="1.2" stroke-linecap="butt"/>
<line x1="335.1" y1="610.6" x2="338.6" y2="612.6" stroke="#000" stroke-width="1.2" stroke-linecap="butt"/>
<ellipse cx="330.6" cy="626.5" rx="9.6" ry="16" transform="rotate(30 330.6 626.5)" stroke="#000" stroke-width="1.2" fill="#000"/>
<ellipse cx="328" cy="625" rx="10.2" ry="17" transform="rotate(30 328 625)" stroke="#000" stroke-width="1.4" fill="url(#knB)"/>
<polygon points="319.5,639.7 340.3,651.7 357.3,622.3 336.5,610.3" stroke="none" stroke-width="0" fill="url(#knB)" stroke-linejoin="miter"/>
<line x1="319.5" y1="639.7" x2="340.3" y2="651.7" stroke="#000" stroke-width="1.4" stroke-linecap="butt"/>
<line x1="336.5" y1="610.3" x2="357.3" y2="622.3" stroke="#000" stroke-width="1.4" stroke-linecap="butt"/>
<ellipse cx="348.8" cy="637" rx="10.2" ry="17" transform="rotate(30 348.8 637)" stroke="#000" stroke-width="1.4" fill="url(#knB)"/>
<ellipse cx="330.6" cy="626.5" rx="10.2" ry="17" transform="rotate(30 330.6 626.5)" stroke="#000" stroke-width="2.0" fill="none"/>
<ellipse cx="338.4" cy="631" rx="10.2" ry="17" transform="rotate(30 338.4 631)" stroke="#000" stroke-width="2.6" fill="none"/>
<ellipse cx="347.9" cy="636.5" rx="10.2" ry="17" transform="rotate(30 347.9 636.5)" stroke="#000" stroke-width="2.0" fill="none"/>
<ellipse cx="348.8" cy="637" rx="10.8" ry="18" transform="rotate(30 348.8 637)" stroke="#000" stroke-width="1.2" fill="#000"/>
<polygon points="339.8,652.6 344.1,655.1 362.1,623.9 357.8,621.4" stroke="none" stroke-width="0" fill="#000" stroke-linejoin="miter"/>
<line x1="339.8" y1="652.6" x2="344.1" y2="655.1" stroke="#000" stroke-width="1.2" stroke-linecap="butt"/>
<line x1="357.8" y1="621.4" x2="362.1" y2="623.9" stroke="#000" stroke-width="1.2" stroke-linecap="butt"/>
<ellipse cx="353.1" cy="639.5" rx="10.8" ry="18" transform="rotate(30 353.1 639.5)" stroke="#000" stroke-width="1.2" fill="#000"/>
<ellipse cx="351.4" cy="638.5" rx="10.8" ry="18" transform="rotate(30 351.4 638.5)" stroke="#fff" stroke-width="2.4" fill="none"/>
<ellipse cx="354" cy="640" rx="9" ry="15" transform="rotate(30 354 640)" stroke="#000" stroke-width="1.2" fill="#000"/>
<polygon points="346.5,653 353.4,657 368.4,631 361.5,627" stroke="none" stroke-width="0" fill="#000" stroke-linejoin="miter"/>
<line x1="346.5" y1="653" x2="353.4" y2="657" stroke="#000" stroke-width="1.2" stroke-linecap="butt"/>
<line x1="361.5" y1="627" x2="368.4" y2="631" stroke="#000" stroke-width="1.2" stroke-linecap="butt"/>
<ellipse cx="360.9" cy="644" rx="9" ry="15" transform="rotate(30 360.9 644)" stroke="#000" stroke-width="1.2" fill="#000"/>
<ellipse cx="354.8" cy="640.5" rx="8" ry="13" transform="rotate(30 354.8 640.5)" stroke="#fff" stroke-width="1.0" fill="none"/>
<ellipse cx="360.9" cy="644" rx="7" ry="11.5" transform="rotate(30 360.9 644)" stroke="#fff" stroke-width="1.2" fill="#000"/>
<ellipse cx="360.9" cy="644" rx="5.1" ry="8.5" transform="rotate(30 360.9 644)" stroke="#000" stroke-width="1.2" fill="#000"/>
<polygon points="356.7,651.4 379.2,664.4 387.7,649.6 365.2,636.6" stroke="none" stroke-width="0" fill="#000" stroke-linejoin="miter"/>
<line x1="356.7" y1="651.4" x2="379.2" y2="664.4" stroke="#000" stroke-width="1.2" stroke-linecap="butt"/>
<line x1="365.2" y1="636.6" x2="387.7" y2="649.6" stroke="#000" stroke-width="1.2" stroke-linecap="butt"/>
<ellipse cx="383.4" cy="657" rx="5.1" ry="8.5" transform="rotate(30 383.4 657)" stroke="#000" stroke-width="1.2" fill="#fff"/>
<line x1="365.9" y1="650.5" x2="385" y2="661.5" stroke="#fff" stroke-width="2.0" stroke-linecap="butt"/>
<ellipse cx="383.4" cy="657" rx="5.1" ry="8.5" transform="rotate(30 383.4 657)" stroke="#000" stroke-width="1.6" fill="#fff"/>
<ellipse cx="383.4" cy="657" rx="1.6" ry="1" transform="rotate(30 383.4 657)" fill="#000"/>
</g>
<g transform="translate(-89.9,110)">
<ellipse cx="327.1" cy="624.5" rx="9.6" ry="16" transform="rotate(30 327.1 624.5)" stroke="#000" stroke-width="1.2" fill="#000"/>
<polygon points="319.1,638.4 322.6,640.4 338.6,612.6 335.1,610.6" stroke="none" stroke-width="0" fill="#000" stroke-linejoin="miter"/>
<line x1="319.1" y1="638.4" x2="322.6" y2="640.4" stroke="#000" stroke-width="1.2" stroke-linecap="butt"/>
<line x1="335.1" y1="610.6" x2="338.6" y2="612.6" stroke="#000" stroke-width="1.2" stroke-linecap="butt"/>
<ellipse cx="330.6" cy="626.5" rx="9.6" ry="16" transform="rotate(30 330.6 626.5)" stroke="#000" stroke-width="1.2" fill="#000"/>
<ellipse cx="328" cy="625" rx="10.2" ry="17" transform="rotate(30 328 625)" stroke="#000" stroke-width="1.4" fill="url(#knB)"/>
<polygon points="319.5,639.7 340.3,651.7 357.3,622.3 336.5,610.3" stroke="none" stroke-width="0" fill="url(#knB)" stroke-linejoin="miter"/>
<line x1="319.5" y1="639.7" x2="340.3" y2="651.7" stroke="#000" stroke-width="1.4" stroke-linecap="butt"/>
<line x1="336.5" y1="610.3" x2="357.3" y2="622.3" stroke="#000" stroke-width="1.4" stroke-linecap="butt"/>
<ellipse cx="348.8" cy="637" rx="10.2" ry="17" transform="rotate(30 348.8 637)" stroke="#000" stroke-width="1.4" fill="url(#knB)"/>
<ellipse cx="330.6" cy="626.5" rx="10.2" ry="17" transform="rotate(30 330.6 626.5)" stroke="#000" stroke-width="2.0" fill="none"/>
<ellipse cx="338.4" cy="631" rx="10.2" ry="17" transform="rotate(30 338.4 631)" stroke="#000" stroke-width="2.6" fill="none"/>
<ellipse cx="347.9" cy="636.5" rx="10.2" ry="17" transform="rotate(30 347.9 636.5)" stroke="#000" stroke-width="2.0" fill="none"/>
<ellipse cx="348.8" cy="637" rx="10.8" ry="18" transform="rotate(30 348.8 637)" stroke="#000" stroke-width="1.2" fill="#000"/>
<polygon points="339.8,652.6 344.1,655.1 362.1,623.9 357.8,621.4" stroke="none" stroke-width="0" fill="#000" stroke-linejoin="miter"/>
<line x1="339.8" y1="652.6" x2="344.1" y2="655.1" stroke="#000" stroke-width="1.2" stroke-linecap="butt"/>
<line x1="357.8" y1="621.4" x2="362.1" y2="623.9" stroke="#000" stroke-width="1.2" stroke-linecap="butt"/>
<ellipse cx="353.1" cy="639.5" rx="10.8" ry="18" transform="rotate(30 353.1 639.5)" stroke="#000" stroke-width="1.2" fill="#000"/>
<ellipse cx="351.4" cy="638.5" rx="10.8" ry="18" transform="rotate(30 351.4 638.5)" stroke="#fff" stroke-width="2.4" fill="none"/>
<ellipse cx="354" cy="640" rx="9" ry="15" transform="rotate(30 354 640)" stroke="#000" stroke-width="1.2" fill="#000"/>
<polygon points="346.5,653 353.4,657 368.4,631 361.5,627" stroke="none" stroke-width="0" fill="#000" stroke-linejoin="miter"/>
<line x1="346.5" y1="653" x2="353.4" y2="657" stroke="#000" stroke-width="1.2" stroke-linecap="butt"/>
<line x1="361.5" y1="627" x2="368.4" y2="631" stroke="#000" stroke-width="1.2" stroke-linecap="butt"/>
<ellipse cx="360.9" cy="644" rx="9" ry="15" transform="rotate(30 360.9 644)" stroke="#000" stroke-width="1.2" fill="#000"/>
<ellipse cx="354.8" cy="640.5" rx="8" ry="13" transform="rotate(30 354.8 640.5)" stroke="#fff" stroke-width="1.0" fill="none"/>
<ellipse cx="360.9" cy="644" rx="7" ry="11.5" transform="rotate(30 360.9 644)" stroke="#fff" stroke-width="1.2" fill="#000"/>
<ellipse cx="360.9" cy="644" rx="5.1" ry="8.5" transform="rotate(30 360.9 644)" stroke="#000" stroke-width="1.2" fill="#000"/>
<polygon points="356.7,651.4 379.2,664.4 387.7,649.6 365.2,636.6" stroke="none" stroke-width="0" fill="#000" stroke-linejoin="miter"/>
<line x1="356.7" y1="651.4" x2="379.2" y2="664.4" stroke="#000" stroke-width="1.2" stroke-linecap="butt"/>
<line x1="365.2" y1="636.6" x2="387.7" y2="649.6" stroke="#000" stroke-width="1.2" stroke-linecap="butt"/>
<ellipse cx="383.4" cy="657" rx="5.1" ry="8.5" transform="rotate(30 383.4 657)" stroke="#000" stroke-width="1.2" fill="#fff"/>
<line x1="365.9" y1="650.5" x2="385" y2="661.5" stroke="#fff" stroke-width="2.0" stroke-linecap="butt"/>
<ellipse cx="383.4" cy="657" rx="5.1" ry="8.5" transform="rotate(30 383.4 657)" stroke="#000" stroke-width="1.6" fill="#fff"/>
<ellipse cx="383.4" cy="657" rx="1.6" ry="1" transform="rotate(30 383.4 657)" fill="#000"/>
</g>
<g id="c34">
<ellipse cx="421.1" cy="616" rx="8.4" ry="14" transform="rotate(30 421.1 616)" stroke="#000" stroke-width="1.2" fill="#000"/>
<polygon points="414.1,628.1 419.3,631.1 433.3,606.9 428.1,603.9" stroke="none" stroke-width="0" fill="#000" stroke-linejoin="miter"/>
<line x1="414.1" y1="628.1" x2="419.3" y2="631.1" stroke="#000" stroke-width="1.2" stroke-linecap="butt"/>
<line x1="428.1" y1="603.9" x2="433.3" y2="606.9" stroke="#000" stroke-width="1.2" stroke-linecap="butt"/>
<ellipse cx="426.3" cy="619" rx="8.4" ry="14" transform="rotate(30 426.3 619)" stroke="#000" stroke-width="1.2" fill="#000"/>
<ellipse cx="426.3" cy="619" rx="8.4" ry="14" transform="rotate(30 426.3 619)" fill="#fff"/>
<ellipse cx="426.3" cy="619" rx="7.5" ry="12.5" transform="rotate(30 426.3 619)" stroke="#000" stroke-width="1.6" fill="#fff"/>
<polygon points="420,629.8 427,633.8 439.5,612.2 432.5,608.2" stroke="none" stroke-width="0" fill="#fff" stroke-linejoin="miter"/>
<line x1="420" y1="629.8" x2="427" y2="633.8" stroke="#000" stroke-width="1.6" stroke-linecap="butt"/>
<line x1="432.5" y1="608.2" x2="439.5" y2="612.2" stroke="#000" stroke-width="1.6" stroke-linecap="butt"/>
<ellipse cx="433.2" cy="623" rx="7.5" ry="12.5" transform="rotate(30 433.2 623)" stroke="#000" stroke-width="1.6" fill="#fff"/>
<ellipse cx="431.5" cy="622" rx="12.3" ry="20.5" transform="rotate(30 431.5 622)" stroke="#000" stroke-width="1.8" fill="#fff"/>
<polygon points="421.2,639.8 427.3,643.3 447.8,607.7 441.7,604.2" stroke="none" stroke-width="0" fill="#fff" stroke-linejoin="miter"/>
<line x1="421.2" y1="639.8" x2="427.3" y2="643.3" stroke="#000" stroke-width="1.8" stroke-linecap="butt"/>
<line x1="441.7" y1="604.2" x2="447.8" y2="607.7" stroke="#000" stroke-width="1.8" stroke-linecap="butt"/>
<ellipse cx="437.6" cy="625.5" rx="12.3" ry="20.5" transform="rotate(30 437.6 625.5)" stroke="#000" stroke-width="1.8" fill="#fff"/>
<ellipse cx="437.6" cy="625.5" rx="11.1" ry="18.5" transform="rotate(30 437.6 625.5)" stroke="#000" stroke-width="1.6" fill="#fff"/>
<polygon points="428.3,641.5 439.6,648 458.1,616 446.8,609.5" stroke="none" stroke-width="0" fill="#fff" stroke-linejoin="miter"/>
<line x1="428.3" y1="641.5" x2="439.6" y2="648" stroke="#000" stroke-width="1.6" stroke-linecap="butt"/>
<line x1="446.8" y1="609.5" x2="458.1" y2="616" stroke="#000" stroke-width="1.6" stroke-linecap="butt"/>
<ellipse cx="448.8" cy="632" rx="11.1" ry="18.5" transform="rotate(30 448.8 632)" stroke="#000" stroke-width="1.6" fill="#fff"/>
<ellipse cx="441" cy="627.5" rx="11" ry="18.5" transform="rotate(30 441 627.5)" stroke="#000" stroke-width="1.0" fill="none"/>
<ellipse cx="444.5" cy="629.5" rx="11" ry="18.5" transform="rotate(30 444.5 629.5)" stroke="#000" stroke-width="2.0" fill="none"/>
<ellipse cx="448.8" cy="632" rx="9.6" ry="16" transform="rotate(30 448.8 632)" stroke="#000" stroke-width="1.6" fill="#fff"/>
<polygon points="440.8,645.9 451.2,651.9 467.2,624.1 456.8,618.1" stroke="none" stroke-width="0" fill="#fff" stroke-linejoin="miter"/>
<line x1="440.8" y1="645.9" x2="451.2" y2="651.9" stroke="#000" stroke-width="1.6" stroke-linecap="butt"/>
<line x1="456.8" y1="618.1" x2="467.2" y2="624.1" stroke="#000" stroke-width="1.6" stroke-linecap="butt"/>
<ellipse cx="459.2" cy="638" rx="9.6" ry="16" transform="rotate(30 459.2 638)" stroke="#000" stroke-width="1.6" fill="#fff"/>
<ellipse cx="445.5" cy="623" rx="2" ry="1.4" transform="rotate(30 445.5 623)" fill="#000"/>
<ellipse cx="449" cy="625" rx="2" ry="1.4" transform="rotate(30 449 625)" fill="#000"/>
<ellipse cx="452.5" cy="627" rx="2" ry="1.4" transform="rotate(30 452.5 627)" fill="#000"/>
<ellipse cx="459.2" cy="638" rx="7.2" ry="12" transform="rotate(30 459.2 638)" stroke="#000" stroke-width="1.6" fill="#fff"/>
<polygon points="453.2,648.4 465.3,655.4 477.3,634.6 465.2,627.6" stroke="none" stroke-width="0" fill="#fff" stroke-linejoin="miter"/>
<line x1="453.2" y1="648.4" x2="465.3" y2="655.4" stroke="#000" stroke-width="1.6" stroke-linecap="butt"/>
<line x1="465.2" y1="627.6" x2="477.3" y2="634.6" stroke="#000" stroke-width="1.6" stroke-linecap="butt"/>
<ellipse cx="471.3" cy="645" rx="7.2" ry="12" transform="rotate(30 471.3 645)" stroke="#000" stroke-width="1.6" fill="#fff"/>
<ellipse cx="469.6" cy="644" rx="6.3" ry="10.5" transform="rotate(30 469.6 644)" stroke="#000" stroke-width="1.6" fill="#fff"/>
<polygon points="464.3,653.1 473,658.1 483.5,639.9 474.8,634.9" stroke="none" stroke-width="0" fill="#fff" stroke-linejoin="miter"/>
<line x1="464.3" y1="653.1" x2="473" y2="658.1" stroke="#000" stroke-width="1.6" stroke-linecap="butt"/>
<line x1="474.8" y1="634.9" x2="483.5" y2="639.9" stroke="#000" stroke-width="1.6" stroke-linecap="butt"/>
<ellipse cx="478.3" cy="649" rx="6.3" ry="10.5" transform="rotate(30 478.3 649)" stroke="#000" stroke-width="1.6" fill="#fff"/>
<ellipse cx="473.1" cy="646" rx="6.3" ry="10.5" transform="rotate(30 473.1 646)" stroke="#000" stroke-width="1.0" fill="none"/>
<ellipse cx="477.4" cy="648.5" rx="3.3" ry="5.5" transform="rotate(30 477.4 648.5)" stroke="#000" stroke-width="1.0" fill="#000"/>
<polygon points="474.6,653.3 499.8,667.8 505.3,658.2 480.1,643.7" stroke="none" stroke-width="0" fill="#000" stroke-linejoin="miter"/>
<line x1="474.6" y1="653.3" x2="499.8" y2="667.8" stroke="#000" stroke-width="1.0" stroke-linecap="butt"/>
<line x1="480.1" y1="643.7" x2="505.3" y2="658.2" stroke="#000" stroke-width="1.0" stroke-linecap="butt"/>
<ellipse cx="502.5" cy="663" rx="3.3" ry="5.5" transform="rotate(30 502.5 663)" stroke="#000" stroke-width="1.0" fill="#fff"/>
<line x1="481.3" y1="653.3" x2="503" y2="665.8" stroke="#fff" stroke-width="1.2" stroke-linecap="butt"/>
<ellipse cx="502.5" cy="663" rx="3.3" ry="5.5" transform="rotate(30 502.5 663)" stroke="#000" stroke-width="1.4" fill="#fff"/>
</g>
<g id="c10">
<rect x="552.5" y="638" width="25" height="25" fill="#fff" stroke="#000" stroke-width="1.5"/>
<ellipse cx="565" cy="663" rx="12.5" ry="3.5" stroke="#000" stroke-width="1.5" fill="#fff"/>
<rect x="552.5" y="640" width="25" height="6" fill="#000"/>
<line x1="552.5" y1="643" x2="577.5" y2="643" stroke="#fff" stroke-width="0.8" stroke-linecap="butt"/>
<ellipse cx="565" cy="657" rx="12.5" ry="3.5" stroke="#000" stroke-width="1.4" fill="none"/>
<ellipse cx="565" cy="660" rx="12.5" ry="3.5" stroke="#000" stroke-width="1.4" fill="none"/>
<ellipse cx="564.5" cy="633" rx="16.5" ry="6" stroke="#000" stroke-width="1.6" fill="#fff"/>
<rect x="548" y="628" width="33" height="5" fill="#fff"/>
<line x1="548" y1="628" x2="548" y2="633" stroke="#000" stroke-width="1.6" stroke-linecap="butt"/>
<line x1="581" y1="628" x2="581" y2="633" stroke="#000" stroke-width="1.6" stroke-linecap="butt"/>
<ellipse cx="564.5" cy="628" rx="16.5" ry="6" stroke="#000" stroke-width="1.6" fill="#fff"/>
<polygon points="551,616 557,610.5 572,610.5 579,616 579,630 572,635 557,635 551,630" stroke="#000" stroke-width="1.6" fill="#fff" stroke-linejoin="miter"/>
<polyline points="551,616 557,621 572,621 579,616" stroke="#000" stroke-width="1.2" fill="none" stroke-linejoin="miter"/>
<line x1="557" y1="621" x2="557" y2="635" stroke="#000" stroke-width="1.2" stroke-linecap="butt"/>
<line x1="572" y1="621" x2="572" y2="635" stroke="#000" stroke-width="1.2" stroke-linecap="butt"/>
<ellipse cx="564.5" cy="616" rx="8" ry="4.5" stroke="#000" stroke-width="1.4" fill="#fff"/>
<ellipse cx="564.5" cy="616.5" rx="5" ry="2.8" stroke="#000" stroke-width="1.4" fill="none"/>
</g>
<g id="tub" fill="none">
<path d="M616,609 Q615,607 617,607 L729,607 Q731,607 730,610 L729,611.5 L617,611.5 Z" stroke="#999" stroke-width="1.3" fill="none"/>
<path d="M621,611.5 L636,636 Q637.5,638 640,638 L710,638 L724,611.5" stroke="#999" stroke-width="1.3" fill="none"/>
<line x1="632" y1="628" x2="722" y2="628" stroke="#999" stroke-width="1.2" stroke-dasharray="6 3" stroke-linecap="butt"/>
<path d="M643,638 L642,644 Q642,646 646,645 L647,638" stroke="#999" stroke-width="1.2" fill="none"/>
<path d="M694,638 L694,644 Q696,646 700,645 L698,638" stroke="#999" stroke-width="1.2" fill="none"/>
<path d="M671,641 L687,638 L703,638 Q711,639 714,628 L718,615" stroke="#000" stroke-width="2.5" fill="none"/>
<line x1="671" y1="641" x2="687" y2="638" stroke="#fff" stroke-width="1.4" stroke-linecap="butt"/>
<rect x="686" y="636" width="4" height="4" fill="#000"/>
<line x1="667" y1="643" x2="672" y2="639" stroke="#000" stroke-width="2.2" stroke-linecap="butt"/>
</g>
<path d="M319.7,750 L319.7,717 A5,5 0 0 1 329.7,717 L329.7,750" stroke="#000" stroke-width="1.5" fill="#fff"/>
<circle cx="324.7" cy="750.5" r="8" fill="#000"/>
<line x1="324.7" y1="716" x2="324.7" y2="744" stroke="#000" stroke-width="1.0" stroke-linecap="butt"/>
<line x1="322.2" y1="720" x2="327.2" y2="720" stroke="#000" stroke-width="1.0" stroke-linecap="butt"/>
<line x1="322.2" y1="724" x2="327.2" y2="724" stroke="#000" stroke-width="1.0" stroke-linecap="butt"/>
<line x1="322.2" y1="728" x2="327.2" y2="728" stroke="#000" stroke-width="1.0" stroke-linecap="butt"/>
<line x1="322.2" y1="732" x2="327.2" y2="732" stroke="#000" stroke-width="1.0" stroke-linecap="butt"/>
<line x1="322.2" y1="736" x2="327.2" y2="736" stroke="#000" stroke-width="1.0" stroke-linecap="butt"/>
<line x1="322.2" y1="740" x2="327.2" y2="740" stroke="#000" stroke-width="1.0" stroke-linecap="butt"/>
<rect x="319.7" y="743" width="10" height="8" fill="#000"/>
<path d="M407.4,750 L407.4,717 A5,5 0 0 1 417.4,717 L417.4,750" stroke="#000" stroke-width="1.5" fill="#fff"/>
<circle cx="412.4" cy="750.5" r="8" fill="#000"/>
<rect x="407.4" y="724" width="10" height="28" fill="#000"/>
<line x1="412.4" y1="716" x2="412.4" y2="723" stroke="#000" stroke-width="1.0" stroke-linecap="butt"/>
<line x1="410.4" y1="719" x2="414.4" y2="719" stroke="#000" stroke-width="1.0" stroke-linecap="butt"/>
<ellipse cx="412.4" cy="723" rx="5" ry="2" fill="#000"/>
<path d="M341.9,727.3 A28.2,28.2 0 0 1 396.1,737.3" stroke="#000" stroke-width="7.7" fill="none"/>
<path d="M394,748.9 A28.2,28.2 0 0 1 339.7,739.3" stroke="#000" stroke-width="7.7" fill="none"/>
<polygon points="387.1,736.7 404.5,739.8 393.2,748.5" stroke="#000" stroke-width="0" fill="#000" stroke-linejoin="miter"/>
<polygon points="331.6,735.8 342.5,727.5 349,740.2" stroke="#000" stroke-width="0" fill="#000" stroke-linejoin="miter"/>
<g id="c12">
<ellipse cx="475" cy="752" rx="3" ry="12" transform="rotate(90 475 752)" stroke="#000" stroke-width="1.4" fill="#fff"/>
<polygon points="463,752 463,780 487,780 487,752" stroke="none" stroke-width="0" fill="#fff" stroke-linejoin="miter"/>
<line x1="463" y1="752" x2="463" y2="780" stroke="#000" stroke-width="1.4" stroke-linecap="butt"/>
<line x1="487" y1="752" x2="487" y2="780" stroke="#000" stroke-width="1.4" stroke-linecap="butt"/>
<ellipse cx="475" cy="780" rx="3" ry="12" transform="rotate(90 475 780)" stroke="#000" stroke-width="1.4" fill="#fff"/>
<rect x="463" y="755" width="24" height="7" fill="#000"/>
<line x1="463" y1="758.5" x2="487" y2="758.5" stroke="#fff" stroke-width="1.0" stroke-linecap="butt"/>
<ellipse cx="475" cy="765" rx="12" ry="3" stroke="#000" stroke-width="1.4" fill="none"/>
<line x1="467" y1="765" x2="467" y2="778" stroke="#000" stroke-width="1.0" stroke-linecap="butt"/>
<line x1="483" y1="765" x2="483" y2="778" stroke="#000" stroke-width="1.0" stroke-linecap="butt"/>
<polygon points="452,729 476,716 497,724.5 473,738" stroke="#000" stroke-width="1.4" fill="#fff" stroke-linejoin="miter"/>
<polygon points="452,729 473,738 473,745 452,736" stroke="#000" stroke-width="1.4" fill="#fff" stroke-linejoin="miter"/>
<polygon points="473,738 497,724.5 497,731 473,745" stroke="#000" stroke-width="1.4" fill="#fff" stroke-linejoin="miter"/>
<polygon points="452,736 457,738 457,747 452,745" stroke="#000" stroke-width="1.3" fill="#fff" stroke-linejoin="miter"/>
<polygon points="467,742 476,745 477,755 468,752" stroke="#000" stroke-width="1.3" fill="#fff" stroke-linejoin="miter"/>
<polygon points="492,734 497,731 497,755 492,752" stroke="#000" stroke-width="1.3" fill="#fff" stroke-linejoin="miter"/>
<polygon points="480,741 486,738 486,750 480,752" stroke="#000" stroke-width="1.2" fill="#fff" stroke-linejoin="miter"/>
<ellipse cx="474.5" cy="727" rx="9" ry="5" transform="rotate(-12 474.5 727)" stroke="#000" stroke-width="1.4" fill="none"/>
<ellipse cx="474.5" cy="727" rx="5.5" ry="3" transform="rotate(-12 474.5 727)" stroke="#000" stroke-width="1.6" fill="none"/>
<ellipse cx="474.5" cy="727" rx="2.6" ry="1.5" transform="rotate(-12 474.5 727)" stroke="#000" stroke-width="1.2" fill="none"/>
<line x1="470" y1="716.5" x2="473" y2="718" stroke="#000" stroke-width="1.2" stroke-linecap="butt"/>
</g>
<circle cx="550.6" cy="716" r="26.2" fill="none" stroke="#000" stroke-width="1.3"/>
<circle cx="550.6" cy="716" r="24" fill="none" stroke="#888" stroke-width="2.6"/>
<circle cx="550.6" cy="716" r="21.8" fill="none" stroke="#000" stroke-width="1.3"/>
<clipPath id="ci550"><circle cx="550.6" cy="716" r="21.2"/></clipPath>
<g clip-path="url(#ci550)">
<path d="M528.6,701 L551.6,714.5 C557.6,718 560.6,714 558.6,708 L540.6,693 Z" stroke="#000" stroke-width="1.3" fill="#fff"/>
<line x1="532.6" y1="706" x2="556.6" y2="719" stroke="#000" stroke-width="1.2" stroke-linecap="butt"/>
<line x1="525.6" y1="707" x2="548.6" y2="720" stroke="#000" stroke-width="1.2" stroke-linecap="butt"/>
<path d="M547.6,719 C548.6,722 557.6,723 558.6,718" stroke="#000" stroke-width="1.2" fill="none"/>
<polygon points="550.9,720.5 556.3,720.5 558.8,738 548.4,738" stroke="#000" stroke-width="0" fill="#000" stroke-linejoin="miter"/>
</g>
<line x1="531.6" y1="726" x2="569.6" y2="705" stroke="#000" stroke-width="3.4" stroke-linecap="butt"/>
<line x1="531.6" y1="726" x2="569.6" y2="705" stroke="#888" stroke-width="1.8" stroke-linecap="butt"/>
<circle cx="612.2" cy="755.9" r="26.2" fill="none" stroke="#000" stroke-width="1.3"/>
<circle cx="612.2" cy="755.9" r="24" fill="none" stroke="#888" stroke-width="2.6"/>
<circle cx="612.2" cy="755.9" r="21.8" fill="none" stroke="#000" stroke-width="1.3"/>
<clipPath id="ci612"><circle cx="612.2" cy="755.9" r="21.2"/></clipPath>
<g clip-path="url(#ci612)">
<path d="M590.2,740.9 L613.2,754.4 C619.2,757.9 622.2,753.9 620.2,747.9 L602.2,732.9 Z" stroke="#000" stroke-width="1.3" fill="#fff"/>
<line x1="594.2" y1="745.9" x2="618.2" y2="758.9" stroke="#000" stroke-width="1.2" stroke-linecap="butt"/>
<line x1="587.2" y1="746.9" x2="610.2" y2="759.9" stroke="#000" stroke-width="1.2" stroke-linecap="butt"/>
<path d="M609.2,758.9 C610.2,761.9 619.2,762.9 620.2,757.9" stroke="#000" stroke-width="1.2" fill="none"/>
<polygon points="612.5,760.4 617.9,760.4 620.4,777.9 610,777.9" stroke="#000" stroke-width="0" fill="#000" stroke-linejoin="miter"/>
</g>
<g id="c13">
<ellipse cx="683" cy="721" rx="2.9" ry="4.8" transform="rotate(30 683 721)" stroke="#000" stroke-width="1.4" fill="#fff"/>
<polygon points="680.6,725.2 723.9,750.2 728.7,741.8 685.4,716.8" stroke="none" stroke-width="0" fill="#fff" stroke-linejoin="miter"/>
<line x1="680.6" y1="725.2" x2="723.9" y2="750.2" stroke="#000" stroke-width="1.4" stroke-linecap="butt"/>
<line x1="685.4" y1="716.8" x2="728.7" y2="741.8" stroke="#000" stroke-width="1.4" stroke-linecap="butt"/>
<ellipse cx="726.3" cy="746" rx="2.9" ry="4.8" transform="rotate(30 726.3 746)" stroke="#000" stroke-width="1.4" fill="#fff"/>
<line x1="685.1" y1="719" x2="726.6" y2="743" stroke="#000" stroke-width="3.2" stroke-linecap="butt"/>
<line x1="682.9" y1="723" x2="724.4" y2="747" stroke="#000" stroke-width="1.0" stroke-linecap="butt"/>
<ellipse cx="683" cy="721" rx="2.9" ry="4.8" transform="rotate(30 683 721)" stroke="#000" stroke-width="1.4" fill="#fff"/>
<ellipse cx="683.5" cy="721" rx="1.5" ry="2.4" transform="rotate(30 683.5 721)" stroke="#000" stroke-width="1.0" fill="none"/>
<ellipse cx="656" cy="758" rx="4.8" ry="8" transform="rotate(30 656 758)" stroke="#000" stroke-width="1.5" fill="#fff"/>
<polygon points="652,764.9 678,779.9 686,766.1 660,751.1" stroke="none" stroke-width="0" fill="#fff" stroke-linejoin="miter"/>
<line x1="652" y1="764.9" x2="678" y2="779.9" stroke="#000" stroke-width="1.5" stroke-linecap="butt"/>
<line x1="660" y1="751.1" x2="686" y2="766.1" stroke="#000" stroke-width="1.5" stroke-linecap="butt"/>
<ellipse cx="682" cy="773" rx="4.8" ry="8" transform="rotate(30 682 773)" stroke="#000" stroke-width="1.5" fill="#fff"/>
<ellipse cx="682" cy="773" rx="3" ry="5" transform="rotate(30 682 773)" stroke="#000" stroke-width="1.4" fill="none"/>
<line x1="661.3" y1="752.8" x2="683.8" y2="765.8" stroke="#000" stroke-width="2.6" stroke-linecap="butt"/>
<ellipse cx="689" cy="751" rx="6" ry="10" transform="rotate(30 689 751)" stroke="#000" stroke-width="1.4" fill="#fff"/>
<polygon points="684,759.7 714.3,777.2 724.3,759.8 694,742.3" stroke="none" stroke-width="0" fill="#fff" stroke-linejoin="miter"/>
<line x1="684" y1="759.7" x2="714.3" y2="777.2" stroke="#000" stroke-width="1.4" stroke-linecap="butt"/>
<line x1="694" y1="742.3" x2="724.3" y2="759.8" stroke="#000" stroke-width="1.4" stroke-linecap="butt"/>
<ellipse cx="719.3" cy="768.5" rx="6" ry="10" transform="rotate(30 719.3 768.5)" stroke="#000" stroke-width="1.4" fill="#fff"/>
<polygon points="726.8,772.8 726.1,774 724.5,774.2 723.7,775.1 723,775.9 722.2,776.7 721.3,777.4 720.5,778 719.6,778.5 718.7,780.6 717.7,781 716.7,781.2 716.2,779.5 715.4,779.5 714.7,779.4 714,779.2 713.3,778.9 712.7,778.5 712.2,778 711.7,777.4 710,778 709.6,777.1 709.3,776.2 710.6,774.2 710.5,773.2 710.5,772.2 710.6,771.2 710.8,770.1 711.1,769 711.4,768 711.8,766.9 711.1,765.4 711.8,764.2 712.5,763 714.2,762.8 714.9,761.9 715.7,761.1 716.5,760.3 717.3,759.6 718.1,759 719,758.5 720,756.4 721,756 721.9,755.8 722.4,757.5 723.2,757.5 723.9,757.6 724.7,757.8 725.3,758.1 725.9,758.5 726.5,759 726.9,759.6 728.7,759 729,759.9 729.3,760.8 728,762.8 728.1,763.8 728.1,764.8 728,765.8 727.8,766.9 727.6,768 727.2,769 726.8,770.1 727.5,771.6" stroke="#000" stroke-width="1.4" fill="#fff" stroke-linejoin="miter"/>
<ellipse cx="719.3" cy="768.5" rx="5" ry="8.5" transform="rotate(30 719.3 768.5)" stroke="#000" stroke-width="1.4" fill="none"/>
</g>
<g id="cl">
<polygon points="746,697 771,694 776,693 776,782 771,781 746,778" stroke="#000" stroke-width="1.6" fill="#fff" stroke-linejoin="miter"/>
<line x1="752" y1="696" x2="752" y2="779" stroke="#000" stroke-width="1.2" stroke-linecap="butt"/>
<line x1="762" y1="695" x2="762" y2="780" stroke="#000" stroke-width="1.6" stroke-linecap="butt"/>
<line x1="770" y1="694" x2="770" y2="781" stroke="#000" stroke-width="1.2" stroke-linecap="butt"/>
<line x1="744" y1="700" x2="744" y2="776" stroke="#000" stroke-width="1.6" stroke-linecap="butt"/>
<circle cx="760.5" cy="737" r="6.2" fill="none" stroke="#000" stroke-width="3.2"/>
<rect x="758" y="734.5" width="5" height="5" fill="none" stroke="#000" stroke-width="1"/>
<ellipse cx="760.5" cy="773" rx="6.2" ry="5.2" fill="none" stroke="#000" stroke-width="3.2"/>
<line x1="758" y1="773" x2="763" y2="772" stroke="#000" stroke-width="1.5" stroke-linecap="butt"/>
<polygon points="776,705 785,705 785,735 776,735" stroke="#000" stroke-width="1.2" fill="#fff" stroke-linejoin="miter"/>
<polygon points="783,710 789,710 789,733 783,733" stroke="#000" stroke-width="1.2" fill="#fff" stroke-linejoin="miter"/>
<polygon points="797,715 806,715 806,732 797,732" stroke="#000" stroke-width="1.2" fill="#fff" stroke-linejoin="miter"/>
<line x1="789" y1="717" x2="797" y2="717" stroke="#000" stroke-width="1.0" stroke-linecap="butt"/>
<line x1="789" y1="730" x2="797" y2="730" stroke="#000" stroke-width="1.0" stroke-linecap="butt"/>
<rect x="806" y="720" width="13" height="3" fill="#000"/>
<rect x="806" y="725" width="13" height="3" fill="#000"/>
<rect x="819" y="720" width="17" height="3" fill="#aaa"/>
<rect x="819" y="725" width="17" height="3" fill="#aaa"/>
<line x1="825" y1="701" x2="825" y2="724" stroke="#888" stroke-width="1.0" stroke-linecap="butt"/>
<line x1="841" y1="701" x2="841" y2="728" stroke="#888" stroke-width="1.0" stroke-linecap="butt"/>
<line x1="788" y1="706" x2="825" y2="706" stroke="#888" stroke-width="1.0" stroke-linecap="butt"/>
<line x1="841" y1="706" x2="859" y2="706" stroke="#888" stroke-width="1.0" stroke-linecap="butt"/>
<polygon points="816,704 825,706 816,708" stroke="#000" stroke-width="0" fill="#888" stroke-linejoin="miter"/>
<polygon points="850,704 841,706 850,708" stroke="#000" stroke-width="0" fill="#888" stroke-linejoin="miter"/>
<polygon points="776,745 791,745 791,782 776,782" stroke="#000" stroke-width="1.2" fill="#fff" stroke-linejoin="miter"/>
<polygon points="779,756 786,756 786,770 779,770" stroke="#000" stroke-width="1.2" fill="#fff" stroke-linejoin="miter"/>
<polygon points="791,750 797,750 797,775 791,775" stroke="#000" stroke-width="1.2" fill="#fff" stroke-linejoin="miter"/>
<rect x="797" y="756" width="21" height="15" fill="#000"/>
<line x1="797" y1="760" x2="818" y2="760" stroke="#fff" stroke-width="1.0" stroke-linecap="butt"/>
<line x1="797" y1="765" x2="818" y2="765" stroke="#fff" stroke-width="1.0" stroke-linecap="butt"/>
</g>
</g>
<g id="g2">
<polygon points="846,463 852,466 852,490 846,492" stroke="#000" stroke-width="1.4" fill="#fff" stroke-linejoin="miter"/>
<ellipse cx="826.3" cy="475.9" rx="21" ry="30" transform="rotate(25 826.3 475.9)" stroke="#000" stroke-width="2.6" fill="#fff"/>
<ellipse cx="827.2" cy="476.4" rx="19" ry="28.2" transform="rotate(25 827.2 476.4)" stroke="#000" stroke-width="1.2" fill="none"/>
<ellipse cx="827" cy="477.2" rx="21" ry="30" transform="rotate(25 827 477.2)" stroke="#000" stroke-width="2.0" fill="none"/>
<ellipse cx="830.5" cy="477" rx="13.8" ry="21.5" transform="rotate(22 830.5 477)" stroke="#000" stroke-width="4.2" fill="none"/>
<ellipse cx="832" cy="477.5" rx="11" ry="18.5" transform="rotate(22 832 477.5)" stroke="#000" stroke-width="1.2" fill="none"/>
<polygon points="826,456 842,451.5 850,457 834,460.5" stroke="#000" stroke-width="1.3" fill="#fff" stroke-linejoin="miter"/>
<polygon points="807,480 812,482 812,493 807,491" stroke="#000" stroke-width="1.2" fill="#fff" stroke-linejoin="miter"/>
<polygon points="824,494 834,494 832,500 826,499" stroke="#000" stroke-width="1.2" fill="#fff" stroke-linejoin="miter"/>
<ellipse cx="876.5" cy="502.4" rx="16.8" ry="28" transform="rotate(30 876.5 502.4)" stroke="#000" stroke-width="1.5" fill="#fff"/>
<polygon points="862.5,526.6 874.6,533.6 902.6,485.2 890.5,478.2" stroke="none" stroke-width="0" fill="#fff" stroke-linejoin="miter"/>
<line x1="862.5" y1="526.6" x2="874.6" y2="533.6" stroke="#000" stroke-width="1.5" stroke-linecap="butt"/>
<line x1="890.5" y1="478.2" x2="902.6" y2="485.2" stroke="#000" stroke-width="1.5" stroke-linecap="butt"/>
<ellipse cx="888.6" cy="509.4" rx="16.8" ry="28" transform="rotate(30 888.6 509.4)" stroke="#000" stroke-width="1.5" fill="#fff"/>
<ellipse cx="886.6" cy="508.4" rx="13.8" ry="25" transform="rotate(30 886.6 508.4)" stroke="#000" stroke-width="2.2" fill="none"/>
<ellipse cx="884.6" cy="507.4" rx="11.8" ry="23" transform="rotate(30 884.6 507.4)" stroke="#000" stroke-width="1.0" fill="none"/>
<ellipse cx="925.1" cy="530.7" rx="18" ry="24.8" transform="rotate(22 925.1 530.7)" stroke="#000" stroke-width="2.4" fill="none"/>
<ellipse cx="925.5" cy="531" rx="15.2" ry="22" transform="rotate(22 925.5 531)" stroke="#000" stroke-width="2.0" fill="none"/>
</g>
<ellipse cx="886.6" cy="402" rx="14" ry="20.8" transform="rotate(22 886.6 402)" stroke="#000" stroke-width="2.3" fill="none"/>
<ellipse cx="886.8" cy="402.2" rx="11.3" ry="18.2" transform="rotate(22 886.8 402.2)" stroke="#000" stroke-width="2.0" fill="none"/>
<g id="kn4">
<ellipse cx="916" cy="420" rx="11.4" ry="19" transform="rotate(30 916 420)" stroke="#000" stroke-width="1.2" fill="#000"/>
<polygon points="906.5,436.5 915.2,441.5 934.2,408.5 925.5,403.5" stroke="none" stroke-width="0" fill="#000" stroke-linejoin="miter"/>
<line x1="906.5" y1="436.5" x2="915.2" y2="441.5" stroke="#000" stroke-width="1.2" stroke-linecap="butt"/>
<line x1="925.5" y1="403.5" x2="934.2" y2="408.5" stroke="#000" stroke-width="1.2" stroke-linecap="butt"/>
<ellipse cx="924.7" cy="425" rx="11.4" ry="19" transform="rotate(30 924.7 425)" stroke="#000" stroke-width="1.2" fill="#000"/>
<ellipse cx="916" cy="420" rx="9.5" ry="16.5" transform="rotate(30 916 420)" fill="none" stroke="#fff" stroke-width="1.6" stroke-dasharray="2 3"/>
<ellipse cx="924.7" cy="425" rx="11.4" ry="19" transform="rotate(30 924.7 425)" stroke="#fff" stroke-width="1.4" fill="#000"/>
<ellipse cx="926.2" cy="426" rx="9.5" ry="16" transform="rotate(30 926.2 426)" stroke="#fff" stroke-width="1.8" fill="#000"/>
<ellipse cx="925.9" cy="424" rx="9.6" ry="15.5" transform="rotate(30 925.9 424)" stroke="#000" stroke-width="1.4" fill="url(#knC)"/>
<polygon points="918.2,437.4 937.2,448.4 952.8,421.6 933.7,410.6" stroke="none" stroke-width="0" fill="url(#knC)" stroke-linejoin="miter"/>
<line x1="918.2" y1="437.4" x2="937.2" y2="448.4" stroke="#000" stroke-width="1.4" stroke-linecap="butt"/>
<line x1="933.7" y1="410.6" x2="952.8" y2="421.6" stroke="#000" stroke-width="1.4" stroke-linecap="butt"/>
<ellipse cx="945" cy="435" rx="9.6" ry="15.5" transform="rotate(30 945 435)" stroke="#000" stroke-width="1.4" fill="#fff"/>
<ellipse cx="945" cy="435" rx="9.6" ry="15.5" transform="rotate(30 945 435)" stroke="#000" stroke-width="1.8" fill="#fff"/>
<ellipse cx="945.8" cy="435.5" rx="8" ry="13.5" transform="rotate(30 945.8 435.5)" stroke="#000" stroke-width="1.0" fill="none"/>
</g>
<g id="br4">
<ellipse cx="966.5" cy="447.5" rx="8.7" ry="14.5" transform="rotate(30 966.5 447.5)" stroke="#000" stroke-width="1.8" fill="#fff"/>
<polygon points="959.2,460.1 964.4,463.1 978.9,437.9 973.8,434.9" stroke="none" stroke-width="0" fill="#fff" stroke-linejoin="miter"/>
<line x1="959.2" y1="460.1" x2="964.4" y2="463.1" stroke="#000" stroke-width="1.8" stroke-linecap="butt"/>
<line x1="973.8" y1="434.9" x2="978.9" y2="437.9" stroke="#000" stroke-width="1.8" stroke-linecap="butt"/>
<ellipse cx="971.7" cy="450.5" rx="8.7" ry="14.5" transform="rotate(30 971.7 450.5)" stroke="#000" stroke-width="1.8" fill="#fff"/>
<ellipse cx="971.7" cy="450.5" rx="7.5" ry="12.5" transform="rotate(30 971.7 450.5)" fill="#000"/>
<ellipse cx="971.7" cy="450.5" rx="3" ry="5" transform="rotate(30 971.7 450.5)" fill="#fff"/>
<ellipse cx="971.7" cy="450.5" rx="1.5" ry="2.5" transform="rotate(30 971.7 450.5)" fill="#000"/>
</g>
<g id="ds4">
<ellipse cx="997.7" cy="466" rx="9.5" ry="14.5" transform="rotate(30 997.7 466)" stroke="#000" stroke-width="2.6" fill="#fff"/>
<ellipse cx="998.5" cy="466.5" rx="6.5" ry="10" transform="rotate(30 998.5 466.5)" stroke="#000" stroke-width="1.2" fill="none"/>
<ellipse cx="999" cy="467" rx="4.2" ry="6.5" transform="rotate(30 999 467)" stroke="#000" stroke-width="1.2" fill="none"/>
<line x1="997" y1="466" x2="1001" y2="468" stroke="#000" stroke-width="1.2" stroke-linecap="butt"/>
<line x1="998" y1="470" x2="1000" y2="464" stroke="#000" stroke-width="1.2" stroke-linecap="butt"/>
</g>
<g id="kr2">
<ellipse cx="967.6" cy="556.1" rx="17.4" ry="29" transform="rotate(30 967.6 556.1)" stroke="#000" stroke-width="2.0" fill="url(#knC)"/>
<polygon points="953.1,581.2 967.8,589.7 996.8,539.5 982.1,531" stroke="none" stroke-width="0" fill="url(#knC)" stroke-linejoin="miter"/>
<line x1="953.1" y1="581.2" x2="967.8" y2="589.7" stroke="#000" stroke-width="2.0" stroke-linecap="butt"/>
<line x1="982.1" y1="531" x2="996.8" y2="539.5" stroke="#000" stroke-width="2.0" stroke-linecap="butt"/>
<ellipse cx="982.3" cy="564.6" rx="17.4" ry="29" transform="rotate(30 982.3 564.6)" stroke="#000" stroke-width="2.0" fill="url(#knC)"/>
<ellipse cx="967.6" cy="556.1" rx="17.4" ry="29" transform="rotate(30 967.6 556.1)" stroke="#000" stroke-width="3.2" fill="none"/>
<ellipse cx="977.6" cy="537.1" rx="7.5" ry="4.2" transform="rotate(15 977.6 537.1)" stroke="#000" stroke-width="1.6" fill="#fff"/>
<ellipse cx="987.4" cy="564" rx="16.8" ry="25.2" transform="rotate(27 987.4 564)" stroke="#000" stroke-width="2.6" fill="#fff"/>
<ellipse cx="986.8" cy="563.6" rx="14.2" ry="22.2" transform="rotate(27 986.8 563.6)" stroke="#000" stroke-width="1.2" fill="none"/>
<path d="M995,545 C1003,553 1004,569 998,582" stroke="#000" stroke-width="4.0" fill="none"/>
<ellipse cx="985" cy="563" rx="11" ry="18" transform="rotate(25 985 563)" stroke="#000" stroke-width="1.6" fill="none"/>
<line x1="974" y1="573" x2="990" y2="579" stroke="#000" stroke-width="1.2" stroke-linecap="butt"/>
<line x1="972" y1="569" x2="986" y2="577" stroke="#000" stroke-width="1.0" stroke-linecap="butt"/>
</g>
<g id="tb2">
<ellipse cx="1024" cy="587" rx="7.5" ry="12.5" transform="rotate(30 1024 587)" stroke="#000" stroke-width="1.5" fill="#fff"/>
<polygon points="1017.8,597.8 1039.4,610.3 1051.9,588.7 1030.2,576.2" stroke="none" stroke-width="0" fill="#fff" stroke-linejoin="miter"/>
<line x1="1017.8" y1="597.8" x2="1039.4" y2="610.3" stroke="#000" stroke-width="1.5" stroke-linecap="butt"/>
<line x1="1030.2" y1="576.2" x2="1051.9" y2="588.7" stroke="#000" stroke-width="1.5" stroke-linecap="butt"/>
<ellipse cx="1045.7" cy="599.5" rx="7.5" ry="12.5" transform="rotate(30 1045.7 599.5)" stroke="#000" stroke-width="1.5" fill="#fff"/>
<polygon points="1061.9,607.4 1061.1,608.7 1060.2,610 1059.3,611.2 1058.3,612.3 1057.3,613.3 1056.3,614.3 1055.2,615.1 1054.1,615.9 1053,619 1051.7,619.7 1050.4,620.2 1049.6,617.8 1048.5,618 1047.5,618.1 1046.5,618 1045.5,617.9 1044.6,617.6 1043.8,617.2 1043,616.6 1042.3,616 1039.8,617.5 1039.1,616.5 1038.6,615.4 1040.2,612.4 1039.9,611.3 1039.8,610.1 1039.7,608.9 1039.7,607.6 1039.8,606.2 1040,604.9 1040.3,603.5 1040.7,602.1 1039.2,600.5 1039.9,598.8 1040.6,597.2 1043.1,596.6 1043.9,595.3 1044.8,594 1045.7,592.8 1046.7,591.7 1047.7,590.7 1048.7,589.7 1049.8,588.9 1050.9,588.1 1052,585 1053.3,584.3 1054.6,583.8 1055.4,586.2 1056.5,586 1057.5,585.9 1058.5,586 1059.5,586.1 1060.4,586.4 1061.2,586.8 1062,587.4 1062.7,588 1065.2,586.5 1065.9,587.5 1066.4,588.6 1064.8,591.6 1065.1,592.7 1065.2,593.9 1065.3,595.1 1065.3,596.4 1065.2,597.8 1065,599.1 1064.7,600.5 1064.3,601.9 1065.8,603.5 1065.1,605.2 1064.4,606.8" stroke="#000" stroke-width="1.6" fill="#fff" stroke-linejoin="miter"/>
<ellipse cx="1053" cy="602.3" rx="7.5" ry="12" transform="rotate(30 1053 602.3)" stroke="#000" stroke-width="1.6" fill="#fff"/>
</g>
<ellipse cx="1084.3" cy="621.9" rx="14" ry="19.3" transform="rotate(25 1084.3 621.9)" stroke="#000" stroke-width="2.4" fill="none"/>
<ellipse cx="1084.6" cy="622.2" rx="11.5" ry="16.8" transform="rotate(25 1084.6 622.2)" stroke="#000" stroke-width="1.5" fill="none"/>
<g id="cap2">
<ellipse cx="1122" cy="643.5" rx="15.5" ry="24" transform="rotate(25 1122 643.5)" stroke="#000" stroke-width="2.0" fill="#fff"/>
<polygon points="1104,628 1110,625 1112,633 1106,636" stroke="#000" stroke-width="0" fill="#000" stroke-linejoin="miter"/>
<polygon points="1098,648 1103,646 1105,654 1100,656" stroke="#000" stroke-width="1.2" fill="#fff" stroke-linejoin="miter"/>
<ellipse cx="1129.5" cy="622" rx="3" ry="1.5" transform="rotate(25 1129.5 622)" fill="#000"/>
</g>
<g id="c5">
<ellipse cx="524.3" cy="219.8" rx="8.1" ry="13.5" transform="rotate(30 524.3 219.8)" stroke="#000" stroke-width="1.2" fill="#000"/>
<polygon points="517.6,231.5 521.9,234 535.4,210.6 531.1,208.1" stroke="none" stroke-width="0" fill="#000" stroke-linejoin="miter"/>
<line x1="517.6" y1="231.5" x2="521.9" y2="234" stroke="#000" stroke-width="1.2" stroke-linecap="butt"/>
<line x1="531.1" y1="208.1" x2="535.4" y2="210.6" stroke="#000" stroke-width="1.2" stroke-linecap="butt"/>
<ellipse cx="528.6" cy="222.3" rx="8.1" ry="13.5" transform="rotate(30 528.6 222.3)" stroke="#000" stroke-width="1.2" fill="#000"/>
<ellipse cx="524.3" cy="219.8" rx="5.5" ry="10" transform="rotate(30 524.3 219.8)" fill="#333"/>
<ellipse cx="528.6" cy="222.3" rx="7.5" ry="12.5" transform="rotate(30 528.6 222.3)" stroke="#000" stroke-width="1.4" fill="#fff"/>
<polygon points="522.4,233.1 531.9,238.6 544.4,217 534.9,211.5" stroke="none" stroke-width="0" fill="#fff" stroke-linejoin="miter"/>
<line x1="522.4" y1="233.1" x2="531.9" y2="238.6" stroke="#000" stroke-width="1.4" stroke-linecap="butt"/>
<line x1="534.9" y1="211.5" x2="544.4" y2="217" stroke="#000" stroke-width="1.4" stroke-linecap="butt"/>
<ellipse cx="538.2" cy="227.8" rx="7.5" ry="12.5" transform="rotate(30 538.2 227.8)" stroke="#000" stroke-width="1.4" fill="#fff"/>
<ellipse cx="537.3" cy="227.3" rx="8.7" ry="14.5" transform="rotate(30 537.3 227.3)" stroke="#000" stroke-width="1.2" fill="#000"/>
<polygon points="530.1,239.9 537.9,244.4 552.4,219.2 544.6,214.7" stroke="none" stroke-width="0" fill="#000" stroke-linejoin="miter"/>
<line x1="530.1" y1="239.9" x2="537.9" y2="244.4" stroke="#000" stroke-width="1.2" stroke-linecap="butt"/>
<line x1="544.6" y1="214.7" x2="552.4" y2="219.2" stroke="#000" stroke-width="1.2" stroke-linecap="butt"/>
<ellipse cx="545.1" cy="231.8" rx="8.7" ry="14.5" transform="rotate(30 545.1 231.8)" stroke="#000" stroke-width="1.2" fill="#000"/>
<ellipse cx="545.1" cy="231.8" rx="8.7" ry="14.5" transform="rotate(30 545.1 231.8)" stroke="#000" stroke-width="1.4" fill="#fff"/>
<polygon points="537.9,244.4 553.4,253.4 567.9,228.2 552.4,219.2" stroke="none" stroke-width="0" fill="#fff" stroke-linejoin="miter"/>
<line x1="537.9" y1="244.4" x2="553.4" y2="253.4" stroke="#000" stroke-width="1.4" stroke-linecap="butt"/>
<line x1="552.4" y1="219.2" x2="567.9" y2="228.2" stroke="#000" stroke-width="1.4" stroke-linecap="butt"/>
<ellipse cx="560.7" cy="240.8" rx="8.7" ry="14.5" transform="rotate(30 560.7 240.8)" stroke="#000" stroke-width="1.4" fill="#fff"/>
<ellipse cx="547.7" cy="233.3" rx="8.7" ry="14.5" transform="rotate(30 547.7 233.3)" stroke="#000" stroke-width="1.0" fill="none"/>
<ellipse cx="553.7" cy="226.3" rx="2.5" ry="1.5" transform="rotate(30 553.7 226.3)" stroke="#000" stroke-width="1.2" fill="none"/>
<polyline points="551.2,235.3 556.4,238.3" stroke="#000" stroke-width="0" fill="none" stroke-linejoin="miter"/>
<ellipse cx="559" cy="239.8" rx="9.3" ry="15.5" transform="rotate(30 559 239.8)" stroke="#000" stroke-width="1.6" fill="#fff"/>
<polygon points="551.2,253.2 555.5,255.7 571,228.9 566.7,226.4" stroke="none" stroke-width="0" fill="#fff" stroke-linejoin="miter"/>
<line x1="551.2" y1="253.2" x2="555.5" y2="255.7" stroke="#000" stroke-width="1.6" stroke-linecap="butt"/>
<line x1="566.7" y1="226.4" x2="571" y2="228.9" stroke="#000" stroke-width="1.6" stroke-linecap="butt"/>
<ellipse cx="563.3" cy="242.3" rx="9.3" ry="15.5" transform="rotate(30 563.3 242.3)" stroke="#000" stroke-width="1.6" fill="#fff"/>
<ellipse cx="563.3" cy="242.3" rx="6.6" ry="11" transform="rotate(30 563.3 242.3)" stroke="#000" stroke-width="1.5" fill="#fff"/>
<polygon points="557.8,251.8 574.2,261.3 585.2,242.3 568.8,232.8" stroke="none" stroke-width="0" fill="#fff" stroke-linejoin="miter"/>
<line x1="557.8" y1="251.8" x2="574.2" y2="261.3" stroke="#000" stroke-width="1.5" stroke-linecap="butt"/>
<line x1="568.8" y1="232.8" x2="585.2" y2="242.3" stroke="#000" stroke-width="1.5" stroke-linecap="butt"/>
<ellipse cx="579.7" cy="251.8" rx="6.6" ry="11" transform="rotate(30 579.7 251.8)" stroke="#000" stroke-width="1.5" fill="#fff"/>
<ellipse cx="577.1" cy="250.3" rx="6.3" ry="10.5" transform="rotate(30 577.1 250.3)" stroke="#000" stroke-width="1.5" fill="#fff"/>
<polygon points="571.9,259.4 583.2,265.9 593.7,247.7 582.4,241.2" stroke="none" stroke-width="0" fill="#fff" stroke-linejoin="miter"/>
<line x1="571.9" y1="259.4" x2="583.2" y2="265.9" stroke="#000" stroke-width="1.5" stroke-linecap="butt"/>
<line x1="582.4" y1="241.2" x2="593.7" y2="247.7" stroke="#000" stroke-width="1.5" stroke-linecap="butt"/>
<ellipse cx="588.4" cy="256.8" rx="6.3" ry="10.5" transform="rotate(30 588.4 256.8)" stroke="#000" stroke-width="1.5" fill="#fff"/>
<ellipse cx="580.6" cy="252.3" rx="6" ry="10.5" transform="rotate(30 580.6 252.3)" stroke="#000" stroke-width="1.0" fill="none"/>
<ellipse cx="574.9" cy="243.3" rx="1.6" ry="1.2" transform="rotate(30 574.9 243.3)" fill="#000"/>
<ellipse cx="578.3" cy="245.3" rx="1.6" ry="1.2" transform="rotate(30 578.3 245.3)" fill="#000"/>
<ellipse cx="581.8" cy="247.3" rx="1.6" ry="1.2" transform="rotate(30 581.8 247.3)" fill="#000"/>
<ellipse cx="588.4" cy="256.8" rx="3.6" ry="6" transform="rotate(30 588.4 256.8)" stroke="#000" stroke-width="1.0" fill="#000"/>
<polygon points="585.4,262 614,278.5 620,268.1 591.4,251.6" stroke="none" stroke-width="0" fill="#000" stroke-linejoin="miter"/>
<line x1="585.4" y1="262" x2="614" y2="278.5" stroke="#000" stroke-width="1.0" stroke-linecap="butt"/>
<line x1="591.4" y1="251.6" x2="620" y2="268.1" stroke="#000" stroke-width="1.0" stroke-linecap="butt"/>
<ellipse cx="617" cy="273.3" rx="3.6" ry="6" transform="rotate(30 617 273.3)" stroke="#000" stroke-width="1.0" fill="#fff"/>
<line x1="592.3" y1="261.4" x2="617.5" y2="275.9" stroke="#fff" stroke-width="1.0" stroke-linecap="butt"/>
<ellipse cx="617" cy="273.3" rx="3.6" ry="6" transform="rotate(30 617 273.3)" stroke="#000" stroke-width="1.4" fill="#fff"/>
<ellipse cx="617" cy="273.3" rx="1.8" ry="3" transform="rotate(30 617 273.3)" stroke="#000" stroke-width="1.0" fill="none"/>
</g>
<g id="c6">
<ellipse cx="499.1" cy="284.8" rx="10.5" ry="17.5" transform="rotate(30 499.1 284.8)" stroke="#000" stroke-width="1.2" fill="#000"/>
<polygon points="490.4,300 492.9,301.5 510.4,271.1 507.9,269.6" stroke="none" stroke-width="0" fill="#000" stroke-linejoin="miter"/>
<line x1="490.4" y1="300" x2="492.9" y2="301.5" stroke="#000" stroke-width="1.2" stroke-linecap="butt"/>
<line x1="507.9" y1="269.6" x2="510.4" y2="271.1" stroke="#000" stroke-width="1.2" stroke-linecap="butt"/>
<ellipse cx="501.7" cy="286.3" rx="10.5" ry="17.5" transform="rotate(30 501.7 286.3)" stroke="#000" stroke-width="1.2" fill="#000"/>
<ellipse cx="499.1" cy="284.8" rx="7" ry="12" transform="rotate(30 499.1 284.8)" fill="#333"/>
<ellipse cx="501.7" cy="286.3" rx="11.2" ry="18.6" transform="rotate(30 501.7 286.3)" stroke="#000" stroke-width="1.4" fill="url(#knB)"/>
<polygon points="492.4,302.4 518.4,317.4 537,285.2 511,270.2" stroke="none" stroke-width="0" fill="url(#knB)" stroke-linejoin="miter"/>
<line x1="492.4" y1="302.4" x2="518.4" y2="317.4" stroke="#000" stroke-width="1.4" stroke-linecap="butt"/>
<line x1="511" y1="270.2" x2="537" y2="285.2" stroke="#000" stroke-width="1.4" stroke-linecap="butt"/>
<ellipse cx="527.7" cy="301.3" rx="11.2" ry="18.6" transform="rotate(30 527.7 301.3)" stroke="#000" stroke-width="1.4" fill="url(#knB)"/>
<ellipse cx="502.6" cy="286.8" rx="11.2" ry="18.6" transform="rotate(30 502.6 286.8)" stroke="#000" stroke-width="2.5" fill="none"/>
<ellipse cx="513.8" cy="293.3" rx="11.2" ry="18.6" transform="rotate(30 513.8 293.3)" stroke="#000" stroke-width="3.5" fill="none"/>
<ellipse cx="526.8" cy="300.8" rx="11.2" ry="18.6" transform="rotate(30 526.8 300.8)" stroke="#000" stroke-width="2.5" fill="none"/>
<ellipse cx="527.7" cy="301.3" rx="11.4" ry="19" transform="rotate(30 527.7 301.3)" stroke="#000" stroke-width="1.2" fill="#000"/>
<polygon points="518.2,317.8 523.4,320.8 542.4,287.8 537.2,284.8" stroke="none" stroke-width="0" fill="#000" stroke-linejoin="miter"/>
<line x1="518.2" y1="317.8" x2="523.4" y2="320.8" stroke="#000" stroke-width="1.2" stroke-linecap="butt"/>
<line x1="537.2" y1="284.8" x2="542.4" y2="287.8" stroke="#000" stroke-width="1.2" stroke-linecap="butt"/>
<ellipse cx="532.9" cy="304.3" rx="11.4" ry="19" transform="rotate(30 532.9 304.3)" stroke="#000" stroke-width="1.2" fill="#000"/>
<ellipse cx="532.9" cy="304.3" rx="12" ry="20" transform="rotate(30 532.9 304.3)" stroke="#000" stroke-width="1.6" fill="#fff"/>
<polygon points="522.9,321.6 526.3,323.6 546.3,289 542.9,287" stroke="none" stroke-width="0" fill="#fff" stroke-linejoin="miter"/>
<line x1="522.9" y1="321.6" x2="526.3" y2="323.6" stroke="#000" stroke-width="1.6" stroke-linecap="butt"/>
<line x1="542.9" y1="287" x2="546.3" y2="289" stroke="#000" stroke-width="1.6" stroke-linecap="butt"/>
<ellipse cx="536.3" cy="306.3" rx="12" ry="20" transform="rotate(30 536.3 306.3)" stroke="#000" stroke-width="1.6" fill="#fff"/>
<ellipse cx="536.3" cy="306.3" rx="9.9" ry="16.5" transform="rotate(30 536.3 306.3)" stroke="#000" stroke-width="1.6" fill="#000"/>
<polygon points="528.1,320.6 536.8,325.6 553.3,297 544.6,292" stroke="none" stroke-width="0" fill="#000" stroke-linejoin="miter"/>
<line x1="528.1" y1="320.6" x2="536.8" y2="325.6" stroke="#000" stroke-width="1.6" stroke-linecap="butt"/>
<line x1="544.6" y1="292" x2="553.3" y2="297" stroke="#000" stroke-width="1.6" stroke-linecap="butt"/>
<ellipse cx="545" cy="311.3" rx="9.9" ry="16.5" transform="rotate(30 545 311.3)" stroke="#000" stroke-width="1.6" fill="#000"/>
<ellipse cx="545" cy="311.3" rx="9.9" ry="16.5" transform="rotate(30 545 311.3)" stroke="#000" stroke-width="1.4" fill="#fff"/>
<ellipse cx="545" cy="311.3" rx="8" ry="14" transform="rotate(30 545 311.3)" stroke="#000" stroke-width="1.6" fill="#fff"/>
<ellipse cx="543.3" cy="310.3" rx="6" ry="10" transform="rotate(30 543.3 310.3)" stroke="#000" stroke-width="1.2" fill="url(#spl)"/>
<polygon points="538.3,319 566.8,335.5 576.8,318.1 548.3,301.6" stroke="none" stroke-width="0" fill="url(#spl)" stroke-linejoin="miter"/>
<line x1="538.3" y1="319" x2="566.8" y2="335.5" stroke="#000" stroke-width="1.2" stroke-linecap="butt"/>
<line x1="548.3" y1="301.6" x2="576.8" y2="318.1" stroke="#000" stroke-width="1.2" stroke-linecap="butt"/>
<ellipse cx="571.8" cy="326.8" rx="6" ry="10" transform="rotate(30 571.8 326.8)" stroke="#000" stroke-width="1.2" fill="#fff"/>
<line x1="547.4" y1="314.4" x2="571.6" y2="328.4" stroke="#fff" stroke-width="3.0" stroke-linecap="butt"/>
<ellipse cx="571.8" cy="326.8" rx="6" ry="10" transform="rotate(30 571.8 326.8)" stroke="#000" stroke-width="1.6" fill="#fff"/>
<ellipse cx="572.8" cy="326.8" rx="1.8" ry="1.1" transform="rotate(30 572.8 326.8)" fill="#000"/>
<line x1="569.8" y1="325.8" x2="572.8" y2="326.8" stroke="#000" stroke-width="0.8" stroke-linecap="butt"/>
</g>
<g id="p7">
<ellipse cx="390" cy="314" rx="6.3" ry="10.5" transform="rotate(30 390 314)" stroke="#000" stroke-width="1.4" fill="#fff"/>
<polygon points="384.8,323.1 393.4,328.1 403.9,309.9 395.2,304.9" stroke="none" stroke-width="0" fill="#fff" stroke-linejoin="miter"/>
<line x1="384.8" y1="323.1" x2="393.4" y2="328.1" stroke="#000" stroke-width="1.4" stroke-linecap="butt"/>
<line x1="395.2" y1="304.9" x2="403.9" y2="309.9" stroke="#000" stroke-width="1.4" stroke-linecap="butt"/>
<ellipse cx="398.7" cy="319" rx="6.3" ry="10.5" transform="rotate(30 398.7 319)" stroke="#000" stroke-width="1.4" fill="#fff"/>
<ellipse cx="390" cy="314" rx="6.3" ry="10.5" transform="rotate(30 390 314)" stroke="#000" stroke-width="3.0" fill="none"/>
<ellipse cx="393.5" cy="316" rx="6.3" ry="10.5" transform="rotate(30 393.5 316)" stroke="#000" stroke-width="1.6" fill="none"/>
<ellipse cx="398.7" cy="319" rx="6.3" ry="10.5" transform="rotate(30 398.7 319)" stroke="#000" stroke-width="1.4" fill="#fff"/>
<polygon points="397,308 404,312 404,322 398,326" stroke="#000" stroke-width="1.3" fill="#fff" stroke-linejoin="miter"/>
<ellipse cx="397.7" cy="318" rx="3" ry="5.5" transform="rotate(30 397.7 318)" stroke="#000" stroke-width="1.4" fill="none"/>
<line x1="395.7" y1="313" x2="400.7" y2="324" stroke="#000" stroke-width="1.0" stroke-linecap="butt"/>
<ellipse cx="413" cy="328" rx="9" ry="15" transform="rotate(30 413 328)" stroke="#000" stroke-width="1.4" fill="#000"/>
<polygon points="405.5,341 413.3,345.5 428.3,319.5 420.5,315" stroke="none" stroke-width="0" fill="#000" stroke-linejoin="miter"/>
<line x1="405.5" y1="341" x2="413.3" y2="345.5" stroke="#000" stroke-width="1.4" stroke-linecap="butt"/>
<line x1="420.5" y1="315" x2="428.3" y2="319.5" stroke="#000" stroke-width="1.4" stroke-linecap="butt"/>
<ellipse cx="420.8" cy="332.5" rx="9" ry="15" transform="rotate(30 420.8 332.5)" stroke="#000" stroke-width="1.4" fill="#000"/>
<ellipse cx="415.6" cy="329.5" rx="9" ry="15" transform="rotate(30 415.6 329.5)" stroke="#fff" stroke-width="1.0" fill="none"/>
<ellipse cx="420.8" cy="332.5" rx="9" ry="15" transform="rotate(30 420.8 332.5)" stroke="#000" stroke-width="1.4" fill="#fff"/>
<ellipse cx="420.8" cy="332.5" rx="7.5" ry="12.5" transform="rotate(30 420.8 332.5)" stroke="#000" stroke-width="1.8" fill="#fff"/>
<polygon points="431,341.5 421.3,345.3 415.1,338.3 418.6,327.5 428.3,323.7 434.5,330.7" stroke="#000" stroke-width="1.5" fill="#fff" stroke-linejoin="miter"/>
<line x1="420.8" y1="325.5" x2="427.8" y2="335.5" stroke="#000" stroke-width="1.1" stroke-linecap="butt"/>
<line x1="427.8" y1="335.5" x2="425.8" y2="344.5" stroke="#000" stroke-width="1.1" stroke-linecap="butt"/>
<line x1="427.8" y1="335.5" x2="434.8" y2="331.5" stroke="#000" stroke-width="1.1" stroke-linecap="butt"/>
</g>
<g id="p5">
<ellipse cx="658" cy="295" rx="13.2" ry="22" transform="rotate(30 658 295)" stroke="#000" stroke-width="1.5" fill="#fff"/>
<polygon points="647,314.1 653.1,317.6 675.1,279.4 669,275.9" stroke="none" stroke-width="0" fill="#fff" stroke-linejoin="miter"/>
<line x1="647" y1="314.1" x2="653.1" y2="317.6" stroke="#000" stroke-width="1.5" stroke-linecap="butt"/>
<line x1="669" y1="275.9" x2="675.1" y2="279.4" stroke="#000" stroke-width="1.5" stroke-linecap="butt"/>
<ellipse cx="664.1" cy="298.5" rx="13.2" ry="22" transform="rotate(30 664.1 298.5)" stroke="#000" stroke-width="1.5" fill="#fff"/>
<ellipse cx="664.1" cy="298.5" rx="11.5" ry="19" transform="rotate(30 664.1 298.5)" stroke="#000" stroke-width="1.2" fill="none"/>
<ellipse cx="665.1" cy="299" rx="8.7" ry="15" transform="rotate(30 665.1 299)" stroke="#000" stroke-width="1.8" fill="none"/>
<ellipse cx="666.1" cy="299.5" rx="7.2" ry="12.5" transform="rotate(30 666.1 299.5)" stroke="#000" stroke-width="1.0" fill="none"/>
<ellipse cx="702" cy="268" rx="7.5" ry="12.5" transform="rotate(30 702 268)" stroke="#000" stroke-width="1.4" fill="#fff"/>
<polygon points="695.8,278.8 707,285.3 719.5,263.7 708.2,257.2" stroke="none" stroke-width="0" fill="#fff" stroke-linejoin="miter"/>
<line x1="695.8" y1="278.8" x2="707" y2="285.3" stroke="#000" stroke-width="1.4" stroke-linecap="butt"/>
<line x1="708.2" y1="257.2" x2="719.5" y2="263.7" stroke="#000" stroke-width="1.4" stroke-linecap="butt"/>
<ellipse cx="713.3" cy="274.5" rx="7.5" ry="12.5" transform="rotate(30 713.3 274.5)" stroke="#000" stroke-width="1.4" fill="#fff"/>
<ellipse cx="693.3" cy="275.5" rx="1.5" ry="1.5" fill="#000"/>
<ellipse cx="693" cy="271.7" rx="1.5" ry="1.5" fill="#000"/>
<ellipse cx="694" cy="267.4" rx="1.5" ry="1.5" fill="#000"/>
<ellipse cx="696.2" cy="263.1" rx="1.5" ry="1.5" fill="#000"/>
<ellipse cx="699.2" cy="259.6" rx="1.5" ry="1.5" fill="#000"/>
<ellipse cx="702.6" cy="257.3" rx="1.5" ry="1.5" fill="#000"/>
<ellipse cx="705.9" cy="256.5" rx="1.5" ry="1.5" fill="#000"/>
<ellipse cx="713.3" cy="274.5" rx="7.5" ry="12.5" transform="rotate(30 713.3 274.5)" stroke="#000" stroke-width="1.6" fill="#fff"/>
<ellipse cx="713.8" cy="275" rx="5" ry="9" transform="rotate(30 713.8 275)" stroke="#000" stroke-width="1.2" fill="none"/>
<line x1="710.3" y1="271.5" x2="715.3" y2="280.5" stroke="#000" stroke-width="1.0" stroke-linecap="butt"/>
<line x1="714.3" y1="268.5" x2="717.3" y2="277.5" stroke="#000" stroke-width="1.0" stroke-linecap="butt"/>
<ellipse cx="731" cy="233" rx="10.7" ry="19.5" transform="rotate(30 731 233)" stroke="#000" stroke-width="1.4" fill="#fff"/>
<polygon points="721.2,249.9 724.7,251.9 744.2,218.1 740.8,216.1" stroke="none" stroke-width="0" fill="#fff" stroke-linejoin="miter"/>
<line x1="721.2" y1="249.9" x2="724.7" y2="251.9" stroke="#000" stroke-width="1.4" stroke-linecap="butt"/>
<line x1="740.8" y1="216.1" x2="744.2" y2="218.1" stroke="#000" stroke-width="1.4" stroke-linecap="butt"/>
<ellipse cx="734.5" cy="235" rx="10.7" ry="19.5" transform="rotate(30 734.5 235)" stroke="#000" stroke-width="1.4" fill="#fff"/>
<ellipse cx="734.5" cy="235" rx="10" ry="19.5" transform="rotate(30 734.5 235)" stroke="#000" stroke-width="1.2" fill="#fff"/>
<ellipse cx="740" cy="240" rx="8.1" ry="13.5" transform="rotate(30 740 240)" stroke="#000" stroke-width="1.5" fill="#fff"/>
<polygon points="733.2,251.7 745.4,258.7 758.9,235.3 746.8,228.3" stroke="none" stroke-width="0" fill="#fff" stroke-linejoin="miter"/>
<line x1="733.2" y1="251.7" x2="745.4" y2="258.7" stroke="#000" stroke-width="1.5" stroke-linecap="butt"/>
<line x1="746.8" y1="228.3" x2="758.9" y2="235.3" stroke="#000" stroke-width="1.5" stroke-linecap="butt"/>
<ellipse cx="752.1" cy="247" rx="8.1" ry="13.5" transform="rotate(30 752.1 247)" stroke="#000" stroke-width="1.5" fill="#fff"/>
<ellipse cx="752.1" cy="247" rx="8.1" ry="13.5" transform="rotate(30 752.1 247)" stroke="#000" stroke-width="1.6" fill="#fff"/>
<ellipse cx="752.1" cy="247" rx="6.5" ry="11" transform="rotate(30 752.1 247)" stroke="#000" stroke-width="1.0" fill="none"/>
<polygon points="755.2,249 751.8,252 749.2,250.5 750,246 753.5,243 756.1,244.5" stroke="#000" stroke-width="1.2" fill="none" stroke-linejoin="miter"/>
</g>
</svg></body></html>
